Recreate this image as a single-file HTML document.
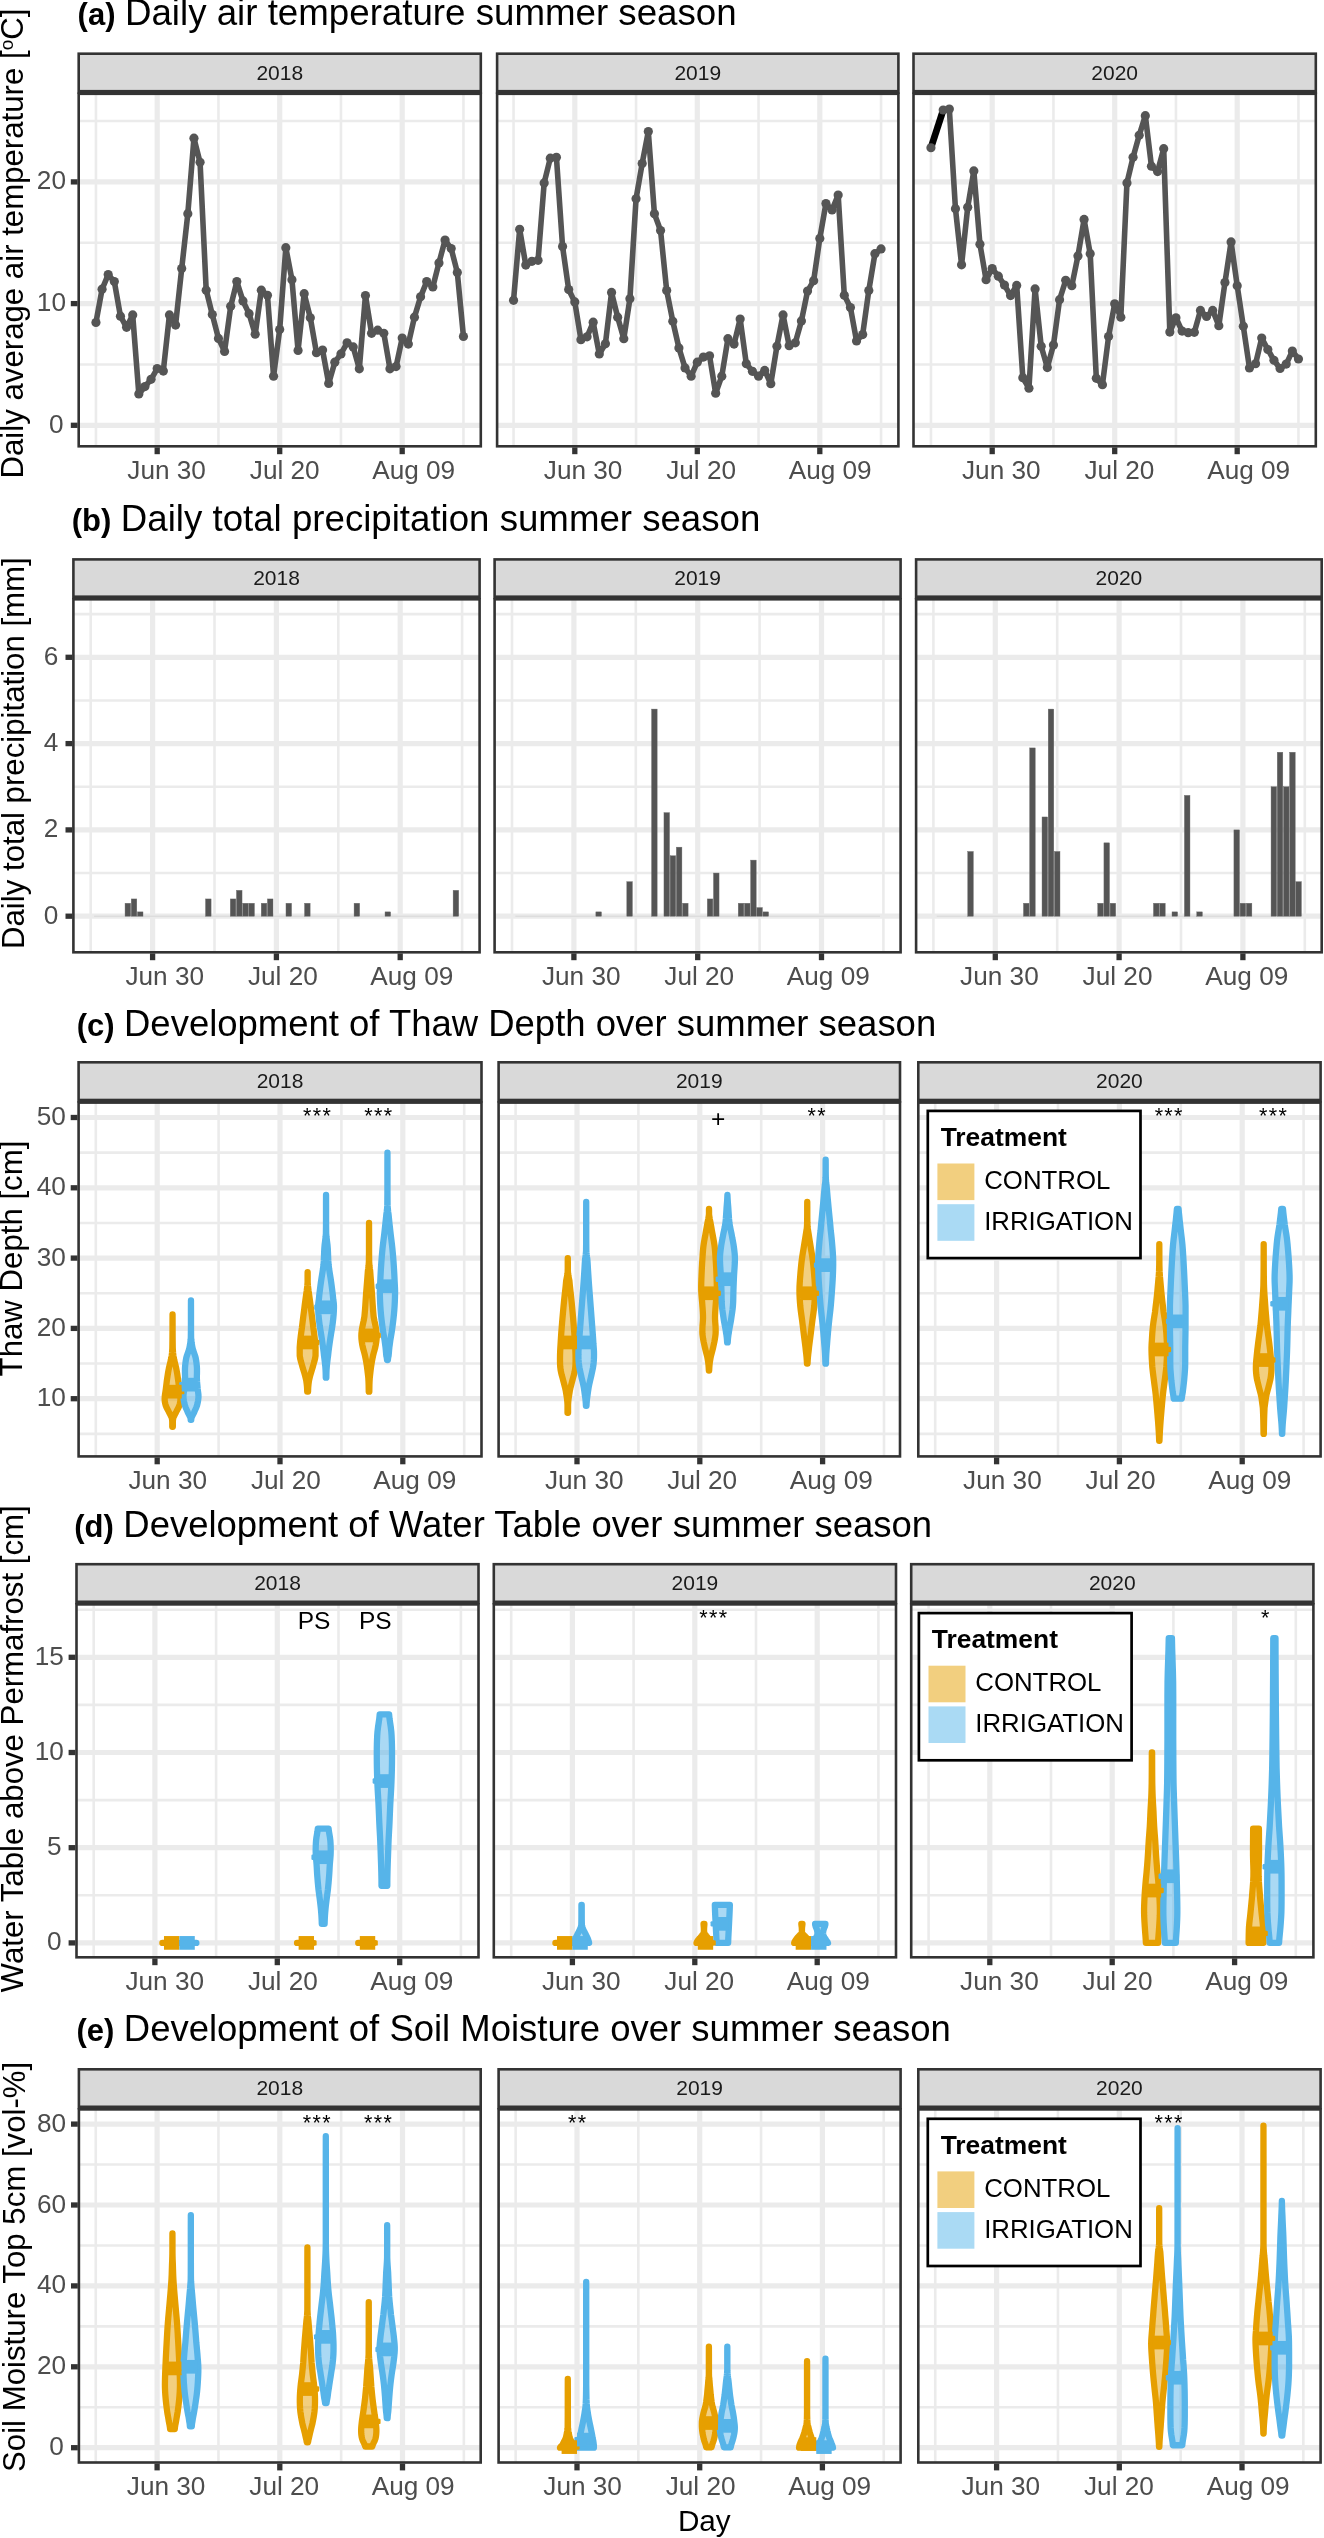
<!DOCTYPE html>
<html><head><meta charset="utf-8"><title>Figure</title>
<style>html,body{margin:0;padding:0;background:#fff}svg{display:block;will-change:transform}text{font-family:"Liberation Sans",sans-serif}</style>
</head><body>
<svg width="1324" height="2538" viewBox="0 0 1324 2538" font-family="Liberation Sans, sans-serif">
<rect width="1324" height="2538" fill="#fff"/>
<text x="77.6" y="25" font-size="36.7" fill="#000"><tspan font-weight="bold" font-size="31">(a)</tspan><tspan dx="-0.7"> Daily air temperature summer season</tspan></text>
<text transform="translate(23,478.5) rotate(-90)" font-size="31.2" fill="#000">Daily average air temperature [<tspan font-size="19" dy="-10">o</tspan><tspan dy="10">C]</tspan></text>
<rect x="77.4" y="52.4" width="404.7" height="41.4" fill="#333333"/>
<rect x="80" y="55" width="399.5" height="34.9" fill="#d9d9d9"/>
<text x="279.75" y="79.55" font-size="21" fill="#1a1a1a" text-anchor="middle">2018</text>
<rect x="78.7" y="93.8" width="402.1" height="352.5" fill="#fff"/>
<clipPath id="c1"><rect x="78.7" y="93.8" width="402.1" height="352.5"/></clipPath>
<g clip-path="url(#c1)">
<line x1="78.7" x2="480.8" y1="364.45" y2="364.45" stroke="#ebebeb" stroke-width="2.6"/>
<line x1="78.7" x2="480.8" y1="242.75" y2="242.75" stroke="#ebebeb" stroke-width="2.6"/>
<line x1="78.7" x2="480.8" y1="121.05" y2="121.05" stroke="#ebebeb" stroke-width="2.6"/>
<line x1="95.95" x2="95.95" y1="93.8" y2="446.3" stroke="#ebebeb" stroke-width="2.6"/>
<line x1="218.45" x2="218.45" y1="93.8" y2="446.3" stroke="#ebebeb" stroke-width="2.6"/>
<line x1="340.95" x2="340.95" y1="93.8" y2="446.3" stroke="#ebebeb" stroke-width="2.6"/>
<line x1="463.45" x2="463.45" y1="93.8" y2="446.3" stroke="#ebebeb" stroke-width="2.6"/>
<line x1="78.7" x2="480.8" y1="425.3" y2="425.3" stroke="#ebebeb" stroke-width="5.2"/>
<line x1="78.7" x2="480.8" y1="303.6" y2="303.6" stroke="#ebebeb" stroke-width="5.2"/>
<line x1="78.7" x2="480.8" y1="181.9" y2="181.9" stroke="#ebebeb" stroke-width="5.2"/>
<line x1="157.2" x2="157.2" y1="93.8" y2="446.3" stroke="#ebebeb" stroke-width="5.2"/>
<line x1="279.7" x2="279.7" y1="93.8" y2="446.3" stroke="#ebebeb" stroke-width="5.2"/>
<line x1="402.2" x2="402.2" y1="93.8" y2="446.3" stroke="#ebebeb" stroke-width="5.2"/>
<path d="M95.95 322.52 L102.07 289.21 L108.2 274.62 L114.32 281.6 L120.45 316.18 L126.57 327.28 L132.7 314.91 L138.82 393.9 L144.95 386.6 L151.07 379.31 L157.2 368.52 L163.32 371.06 L169.45 314.91 L175.57 325.06 L181.7 268.6 L187.82 213.72 L193.95 138.22 L200.07 162.33 L206.2 290.17 L212.32 314.59 L218.45 338.38 L224.57 351.39 L230.7 306.34 L236.82 281.6 L242.95 300.95 L249.07 313.64 L255.2 334.26 L261.32 290.17 L267.45 295.24 L273.57 376.13 L279.7 329.5 L285.82 247.66 L291.95 279.7 L298.07 350.44 L304.2 293.66 L310.32 317.76 L316.45 352.66 L322.57 350.12 L328.7 383.43 L334.82 362.18 L340.95 353.93 L347.07 342.82 L353.2 346.95 L359.32 368.84 L365.45 295.56 L371.57 333.31 L377.7 330.14 L383.82 333.31 L389.95 368.84 L396.07 366.62 L402.2 338.07 L408.32 344.09 L414.45 317.13 L420.57 296.83 L426.7 281.6 L432.82 286.99 L438.95 262.89 L445.07 240.05 L451.2 248.61 L457.32 272.4 L463.45 336.48" fill="none" stroke="#555555" stroke-width="5.6" stroke-linejoin="round" stroke-linecap="butt"/>
<g fill="#555555"><circle cx="95.95" cy="322.52" r="4.6"/><circle cx="102.07" cy="289.21" r="4.6"/><circle cx="108.2" cy="274.62" r="4.6"/><circle cx="114.32" cy="281.6" r="4.6"/><circle cx="120.45" cy="316.18" r="4.6"/><circle cx="126.57" cy="327.28" r="4.6"/><circle cx="132.7" cy="314.91" r="4.6"/><circle cx="138.82" cy="393.9" r="4.6"/><circle cx="144.95" cy="386.6" r="4.6"/><circle cx="151.07" cy="379.31" r="4.6"/><circle cx="157.2" cy="368.52" r="4.6"/><circle cx="163.32" cy="371.06" r="4.6"/><circle cx="169.45" cy="314.91" r="4.6"/><circle cx="175.57" cy="325.06" r="4.6"/><circle cx="181.7" cy="268.6" r="4.6"/><circle cx="187.82" cy="213.72" r="4.6"/><circle cx="193.95" cy="138.22" r="4.6"/><circle cx="200.07" cy="162.33" r="4.6"/><circle cx="206.2" cy="290.17" r="4.6"/><circle cx="212.32" cy="314.59" r="4.6"/><circle cx="218.45" cy="338.38" r="4.6"/><circle cx="224.57" cy="351.39" r="4.6"/><circle cx="230.7" cy="306.34" r="4.6"/><circle cx="236.82" cy="281.6" r="4.6"/><circle cx="242.95" cy="300.95" r="4.6"/><circle cx="249.07" cy="313.64" r="4.6"/><circle cx="255.2" cy="334.26" r="4.6"/><circle cx="261.32" cy="290.17" r="4.6"/><circle cx="267.45" cy="295.24" r="4.6"/><circle cx="273.57" cy="376.13" r="4.6"/><circle cx="279.7" cy="329.5" r="4.6"/><circle cx="285.82" cy="247.66" r="4.6"/><circle cx="291.95" cy="279.7" r="4.6"/><circle cx="298.07" cy="350.44" r="4.6"/><circle cx="304.2" cy="293.66" r="4.6"/><circle cx="310.32" cy="317.76" r="4.6"/><circle cx="316.45" cy="352.66" r="4.6"/><circle cx="322.57" cy="350.12" r="4.6"/><circle cx="328.7" cy="383.43" r="4.6"/><circle cx="334.82" cy="362.18" r="4.6"/><circle cx="340.95" cy="353.93" r="4.6"/><circle cx="347.07" cy="342.82" r="4.6"/><circle cx="353.2" cy="346.95" r="4.6"/><circle cx="359.32" cy="368.84" r="4.6"/><circle cx="365.45" cy="295.56" r="4.6"/><circle cx="371.57" cy="333.31" r="4.6"/><circle cx="377.7" cy="330.14" r="4.6"/><circle cx="383.82" cy="333.31" r="4.6"/><circle cx="389.95" cy="368.84" r="4.6"/><circle cx="396.07" cy="366.62" r="4.6"/><circle cx="402.2" cy="338.07" r="4.6"/><circle cx="408.32" cy="344.09" r="4.6"/><circle cx="414.45" cy="317.13" r="4.6"/><circle cx="420.57" cy="296.83" r="4.6"/><circle cx="426.7" cy="281.6" r="4.6"/><circle cx="432.82" cy="286.99" r="4.6"/><circle cx="438.95" cy="262.89" r="4.6"/><circle cx="445.07" cy="240.05" r="4.6"/><circle cx="451.2" cy="248.61" r="4.6"/><circle cx="457.32" cy="272.4" r="4.6"/><circle cx="463.45" cy="336.48" r="4.6"/></g>
</g>
<rect x="78.7" y="93.8" width="402.1" height="352.5" fill="none" stroke="#333333" stroke-width="2.6"/>
<line x1="157.2" x2="157.2" y1="447.4" y2="454.2" stroke="#333333" stroke-width="5.3"/>
<text x="127.3" y="479.1" font-size="26.2" fill="#4d4d4d">Jun 30</text>
<line x1="279.7" x2="279.7" y1="447.4" y2="454.2" stroke="#333333" stroke-width="5.3"/>
<text x="249.8" y="479.1" font-size="26.2" fill="#4d4d4d">Jul 20</text>
<line x1="402.2" x2="402.2" y1="447.4" y2="454.2" stroke="#333333" stroke-width="5.3"/>
<text x="372.2" y="479.1" font-size="26.2" fill="#4d4d4d">Aug 09</text>
<line x1="70.8" x2="77.6" y1="425.3" y2="425.3" stroke="#333333" stroke-width="5.3"/>
<text x="63.7" y="432.8" font-size="26.2" fill="#4d4d4d" text-anchor="end">0</text>
<line x1="70.8" x2="77.6" y1="303.6" y2="303.6" stroke="#333333" stroke-width="5.3"/>
<text x="66" y="311.1" font-size="26.2" fill="#4d4d4d" text-anchor="end">10</text>
<line x1="70.8" x2="77.6" y1="181.9" y2="181.9" stroke="#333333" stroke-width="5.3"/>
<text x="66" y="189.4" font-size="26.2" fill="#4d4d4d" text-anchor="end">20</text>
<rect x="495.8" y="52.4" width="403.9" height="41.4" fill="#333333"/>
<rect x="498.4" y="55" width="398.7" height="34.9" fill="#d9d9d9"/>
<text x="697.75" y="79.55" font-size="21" fill="#1a1a1a" text-anchor="middle">2019</text>
<rect x="497.1" y="93.8" width="401.3" height="352.5" fill="#fff"/>
<clipPath id="c2"><rect x="497.1" y="93.8" width="401.3" height="352.5"/></clipPath>
<g clip-path="url(#c2)">
<line x1="497.1" x2="898.4" y1="364.45" y2="364.45" stroke="#ebebeb" stroke-width="2.6"/>
<line x1="497.1" x2="898.4" y1="242.75" y2="242.75" stroke="#ebebeb" stroke-width="2.6"/>
<line x1="497.1" x2="898.4" y1="121.05" y2="121.05" stroke="#ebebeb" stroke-width="2.6"/>
<line x1="513.55" x2="513.55" y1="93.8" y2="446.3" stroke="#ebebeb" stroke-width="2.6"/>
<line x1="636.05" x2="636.05" y1="93.8" y2="446.3" stroke="#ebebeb" stroke-width="2.6"/>
<line x1="758.55" x2="758.55" y1="93.8" y2="446.3" stroke="#ebebeb" stroke-width="2.6"/>
<line x1="881.05" x2="881.05" y1="93.8" y2="446.3" stroke="#ebebeb" stroke-width="2.6"/>
<line x1="497.1" x2="898.4" y1="425.3" y2="425.3" stroke="#ebebeb" stroke-width="5.2"/>
<line x1="497.1" x2="898.4" y1="303.6" y2="303.6" stroke="#ebebeb" stroke-width="5.2"/>
<line x1="497.1" x2="898.4" y1="181.9" y2="181.9" stroke="#ebebeb" stroke-width="5.2"/>
<line x1="574.8" x2="574.8" y1="93.8" y2="446.3" stroke="#ebebeb" stroke-width="5.2"/>
<line x1="697.3" x2="697.3" y1="93.8" y2="446.3" stroke="#ebebeb" stroke-width="5.2"/>
<line x1="819.8" x2="819.8" y1="93.8" y2="446.3" stroke="#ebebeb" stroke-width="5.2"/>
<path d="M513.55 300.32 L519.67 229.26 L525.8 265.11 L531.92 261.3 L538.05 260.35 L544.17 182.95 L550.3 158.2 L556.42 157.25 L562.55 246.39 L568.67 289.53 L574.8 301.9 L580.92 339.65 L587.05 336.8 L593.17 322.21 L599.3 353.93 L605.42 343.78 L611.55 292.39 L617.67 317.13 L623.8 338.7 L629.92 298.73 L636.05 198.81 L642.17 163.6 L648.3 131.56 L654.42 213.72 L660.55 230.53 L666.67 290.48 L672.8 321.25 L678.92 347.9 L685.05 367.89 L691.17 376.13 L697.3 362.18 L703.42 357.1 L709.55 355.83 L715.67 393.26 L721.8 376.13 L727.92 338.7 L734.05 344.09 L740.17 319.03 L746.3 363.76 L752.42 371.37 L758.55 376.13 L764.67 370.42 L770.8 383.75 L776.92 346.31 L783.05 314.91 L789.17 345.68 L795.3 342.82 L801.42 320.94 L807.55 291.12 L813.67 280.65 L819.8 238.46 L825.92 203.56 L832.05 209.91 L838.17 195 L844.3 295.24 L850.42 307.61 L856.55 340.92 L862.67 334.58 L868.8 290.48 L874.92 253.69 L881.05 248.93" fill="none" stroke="#555555" stroke-width="5.6" stroke-linejoin="round" stroke-linecap="butt"/>
<g fill="#555555"><circle cx="513.55" cy="300.32" r="4.6"/><circle cx="519.67" cy="229.26" r="4.6"/><circle cx="525.8" cy="265.11" r="4.6"/><circle cx="531.92" cy="261.3" r="4.6"/><circle cx="538.05" cy="260.35" r="4.6"/><circle cx="544.17" cy="182.95" r="4.6"/><circle cx="550.3" cy="158.2" r="4.6"/><circle cx="556.42" cy="157.25" r="4.6"/><circle cx="562.55" cy="246.39" r="4.6"/><circle cx="568.67" cy="289.53" r="4.6"/><circle cx="574.8" cy="301.9" r="4.6"/><circle cx="580.92" cy="339.65" r="4.6"/><circle cx="587.05" cy="336.8" r="4.6"/><circle cx="593.17" cy="322.21" r="4.6"/><circle cx="599.3" cy="353.93" r="4.6"/><circle cx="605.42" cy="343.78" r="4.6"/><circle cx="611.55" cy="292.39" r="4.6"/><circle cx="617.67" cy="317.13" r="4.6"/><circle cx="623.8" cy="338.7" r="4.6"/><circle cx="629.92" cy="298.73" r="4.6"/><circle cx="636.05" cy="198.81" r="4.6"/><circle cx="642.17" cy="163.6" r="4.6"/><circle cx="648.3" cy="131.56" r="4.6"/><circle cx="654.42" cy="213.72" r="4.6"/><circle cx="660.55" cy="230.53" r="4.6"/><circle cx="666.67" cy="290.48" r="4.6"/><circle cx="672.8" cy="321.25" r="4.6"/><circle cx="678.92" cy="347.9" r="4.6"/><circle cx="685.05" cy="367.89" r="4.6"/><circle cx="691.17" cy="376.13" r="4.6"/><circle cx="697.3" cy="362.18" r="4.6"/><circle cx="703.42" cy="357.1" r="4.6"/><circle cx="709.55" cy="355.83" r="4.6"/><circle cx="715.67" cy="393.26" r="4.6"/><circle cx="721.8" cy="376.13" r="4.6"/><circle cx="727.92" cy="338.7" r="4.6"/><circle cx="734.05" cy="344.09" r="4.6"/><circle cx="740.17" cy="319.03" r="4.6"/><circle cx="746.3" cy="363.76" r="4.6"/><circle cx="752.42" cy="371.37" r="4.6"/><circle cx="758.55" cy="376.13" r="4.6"/><circle cx="764.67" cy="370.42" r="4.6"/><circle cx="770.8" cy="383.75" r="4.6"/><circle cx="776.92" cy="346.31" r="4.6"/><circle cx="783.05" cy="314.91" r="4.6"/><circle cx="789.17" cy="345.68" r="4.6"/><circle cx="795.3" cy="342.82" r="4.6"/><circle cx="801.42" cy="320.94" r="4.6"/><circle cx="807.55" cy="291.12" r="4.6"/><circle cx="813.67" cy="280.65" r="4.6"/><circle cx="819.8" cy="238.46" r="4.6"/><circle cx="825.92" cy="203.56" r="4.6"/><circle cx="832.05" cy="209.91" r="4.6"/><circle cx="838.17" cy="195" r="4.6"/><circle cx="844.3" cy="295.24" r="4.6"/><circle cx="850.42" cy="307.61" r="4.6"/><circle cx="856.55" cy="340.92" r="4.6"/><circle cx="862.67" cy="334.58" r="4.6"/><circle cx="868.8" cy="290.48" r="4.6"/><circle cx="874.92" cy="253.69" r="4.6"/><circle cx="881.05" cy="248.93" r="4.6"/></g>
</g>
<rect x="497.1" y="93.8" width="401.3" height="352.5" fill="none" stroke="#333333" stroke-width="2.6"/>
<line x1="574.8" x2="574.8" y1="447.4" y2="454.2" stroke="#333333" stroke-width="5.3"/>
<text x="543.8" y="479.1" font-size="26.2" fill="#4d4d4d">Jun 30</text>
<line x1="697.3" x2="697.3" y1="447.4" y2="454.2" stroke="#333333" stroke-width="5.3"/>
<text x="666.2" y="479.1" font-size="26.2" fill="#4d4d4d">Jul 20</text>
<line x1="819.8" x2="819.8" y1="447.4" y2="454.2" stroke="#333333" stroke-width="5.3"/>
<text x="788.7" y="479.1" font-size="26.2" fill="#4d4d4d">Aug 09</text>
<rect x="912.2" y="52.4" width="404.9" height="41.4" fill="#333333"/>
<rect x="914.8" y="55" width="399.7" height="34.9" fill="#d9d9d9"/>
<text x="1114.65" y="79.55" font-size="21" fill="#1a1a1a" text-anchor="middle">2020</text>
<rect x="913.5" y="93.8" width="402.3" height="352.5" fill="#fff"/>
<clipPath id="c3"><rect x="913.5" y="93.8" width="402.3" height="352.5"/></clipPath>
<g clip-path="url(#c3)">
<line x1="913.5" x2="1315.8" y1="364.45" y2="364.45" stroke="#ebebeb" stroke-width="2.6"/>
<line x1="913.5" x2="1315.8" y1="242.75" y2="242.75" stroke="#ebebeb" stroke-width="2.6"/>
<line x1="913.5" x2="1315.8" y1="121.05" y2="121.05" stroke="#ebebeb" stroke-width="2.6"/>
<line x1="930.95" x2="930.95" y1="93.8" y2="446.3" stroke="#ebebeb" stroke-width="2.6"/>
<line x1="1053.45" x2="1053.45" y1="93.8" y2="446.3" stroke="#ebebeb" stroke-width="2.6"/>
<line x1="1175.95" x2="1175.95" y1="93.8" y2="446.3" stroke="#ebebeb" stroke-width="2.6"/>
<line x1="1298.45" x2="1298.45" y1="93.8" y2="446.3" stroke="#ebebeb" stroke-width="2.6"/>
<line x1="913.5" x2="1315.8" y1="425.3" y2="425.3" stroke="#ebebeb" stroke-width="5.2"/>
<line x1="913.5" x2="1315.8" y1="303.6" y2="303.6" stroke="#ebebeb" stroke-width="5.2"/>
<line x1="913.5" x2="1315.8" y1="181.9" y2="181.9" stroke="#ebebeb" stroke-width="5.2"/>
<line x1="992.2" x2="992.2" y1="93.8" y2="446.3" stroke="#ebebeb" stroke-width="5.2"/>
<line x1="1114.7" x2="1114.7" y1="93.8" y2="446.3" stroke="#ebebeb" stroke-width="5.2"/>
<line x1="1237.2" x2="1237.2" y1="93.8" y2="446.3" stroke="#ebebeb" stroke-width="5.2"/>
<line x1="930.95" y1="147.73" x2="943.2" y2="109.98" stroke="#000" stroke-width="6.8" stroke-linecap="butt"/>
<path d="M943.2 109.98 L949.33 109.03 L955.45 208.64 L961.58 264.79 L967.7 207.37 L973.83 170.89 L979.95 244.17 L986.08 279.7 L992.2 268.6 L998.33 276.21 L1004.45 285.09 L1010.58 295.56 L1016.7 285.41 L1022.83 377.72 L1028.95 388.19 L1035.08 288.9 L1041.2 346.31 L1047.33 367.57 L1053.45 345.05 L1059.58 299.68 L1065.7 280.33 L1071.83 285.73 L1077.95 255.91 L1084.08 219.43 L1090.2 253.69 L1096.33 378.35 L1102.45 384.7 L1108.58 336.48 L1114.7 303.81 L1120.83 317.13 L1126.95 182.95 L1133.08 157.25 L1139.2 135.36 L1145.33 115.69 L1151.45 166.13 L1157.58 171.53 L1163.7 148.69 L1169.83 332.04 L1175.95 317.76 L1182.08 331.09 L1188.2 332.67 L1194.33 332.36 L1200.45 310.47 L1206.58 316.5 L1212.7 310.47 L1218.83 325.69 L1224.95 282.55 L1231.08 241.95 L1237.2 285.73 L1243.33 326.33 L1249.45 367.89 L1255.58 363.76 L1261.7 338.07 L1267.83 349.49 L1273.95 360.27 L1280.08 368.52 L1286.2 364.08 L1292.33 351.07 L1298.45 359" fill="none" stroke="#555555" stroke-width="5.6" stroke-linejoin="round" stroke-linecap="butt"/>
<g fill="#555555"><circle cx="930.95" cy="147.73" r="4.6"/><circle cx="943.2" cy="109.98" r="4.6"/><circle cx="949.33" cy="109.03" r="4.6"/><circle cx="955.45" cy="208.64" r="4.6"/><circle cx="961.58" cy="264.79" r="4.6"/><circle cx="967.7" cy="207.37" r="4.6"/><circle cx="973.83" cy="170.89" r="4.6"/><circle cx="979.95" cy="244.17" r="4.6"/><circle cx="986.08" cy="279.7" r="4.6"/><circle cx="992.2" cy="268.6" r="4.6"/><circle cx="998.33" cy="276.21" r="4.6"/><circle cx="1004.45" cy="285.09" r="4.6"/><circle cx="1010.58" cy="295.56" r="4.6"/><circle cx="1016.7" cy="285.41" r="4.6"/><circle cx="1022.83" cy="377.72" r="4.6"/><circle cx="1028.95" cy="388.19" r="4.6"/><circle cx="1035.08" cy="288.9" r="4.6"/><circle cx="1041.2" cy="346.31" r="4.6"/><circle cx="1047.33" cy="367.57" r="4.6"/><circle cx="1053.45" cy="345.05" r="4.6"/><circle cx="1059.58" cy="299.68" r="4.6"/><circle cx="1065.7" cy="280.33" r="4.6"/><circle cx="1071.83" cy="285.73" r="4.6"/><circle cx="1077.95" cy="255.91" r="4.6"/><circle cx="1084.08" cy="219.43" r="4.6"/><circle cx="1090.2" cy="253.69" r="4.6"/><circle cx="1096.33" cy="378.35" r="4.6"/><circle cx="1102.45" cy="384.7" r="4.6"/><circle cx="1108.58" cy="336.48" r="4.6"/><circle cx="1114.7" cy="303.81" r="4.6"/><circle cx="1120.83" cy="317.13" r="4.6"/><circle cx="1126.95" cy="182.95" r="4.6"/><circle cx="1133.08" cy="157.25" r="4.6"/><circle cx="1139.2" cy="135.36" r="4.6"/><circle cx="1145.33" cy="115.69" r="4.6"/><circle cx="1151.45" cy="166.13" r="4.6"/><circle cx="1157.58" cy="171.53" r="4.6"/><circle cx="1163.7" cy="148.69" r="4.6"/><circle cx="1169.83" cy="332.04" r="4.6"/><circle cx="1175.95" cy="317.76" r="4.6"/><circle cx="1182.08" cy="331.09" r="4.6"/><circle cx="1188.2" cy="332.67" r="4.6"/><circle cx="1194.33" cy="332.36" r="4.6"/><circle cx="1200.45" cy="310.47" r="4.6"/><circle cx="1206.58" cy="316.5" r="4.6"/><circle cx="1212.7" cy="310.47" r="4.6"/><circle cx="1218.83" cy="325.69" r="4.6"/><circle cx="1224.95" cy="282.55" r="4.6"/><circle cx="1231.08" cy="241.95" r="4.6"/><circle cx="1237.2" cy="285.73" r="4.6"/><circle cx="1243.33" cy="326.33" r="4.6"/><circle cx="1249.45" cy="367.89" r="4.6"/><circle cx="1255.58" cy="363.76" r="4.6"/><circle cx="1261.7" cy="338.07" r="4.6"/><circle cx="1267.83" cy="349.49" r="4.6"/><circle cx="1273.95" cy="360.27" r="4.6"/><circle cx="1280.08" cy="368.52" r="4.6"/><circle cx="1286.2" cy="364.08" r="4.6"/><circle cx="1292.33" cy="351.07" r="4.6"/><circle cx="1298.45" cy="359" r="4.6"/></g>
</g>
<rect x="913.5" y="93.8" width="402.3" height="352.5" fill="none" stroke="#333333" stroke-width="2.6"/>
<line x1="992.2" x2="992.2" y1="447.4" y2="454.2" stroke="#333333" stroke-width="5.3"/>
<text x="962" y="479.1" font-size="26.2" fill="#4d4d4d">Jun 30</text>
<line x1="1114.7" x2="1114.7" y1="447.4" y2="454.2" stroke="#333333" stroke-width="5.3"/>
<text x="1084.5" y="479.1" font-size="26.2" fill="#4d4d4d">Jul 20</text>
<line x1="1237.2" x2="1237.2" y1="447.4" y2="454.2" stroke="#333333" stroke-width="5.3"/>
<text x="1207.2" y="479.1" font-size="26.2" fill="#4d4d4d">Aug 09</text>
<text x="71.8" y="531" font-size="36.65" fill="#000"><tspan font-weight="bold" font-size="31">(b)</tspan><tspan dx="-0.7"> Daily total precipitation summer season</tspan></text>
<text transform="translate(24,949) rotate(-90)" font-size="31.2" fill="#000">Daily total precipitation [mm]</text>
<rect x="72.1" y="558.1" width="408.8" height="41.2" fill="#333333"/>
<rect x="74.7" y="560.7" width="403.6" height="34.7" fill="#d9d9d9"/>
<text x="276.5" y="585.15" font-size="21" fill="#1a1a1a" text-anchor="middle">2018</text>
<rect x="73.4" y="599.3" width="406.2" height="353" fill="#fff"/>
<clipPath id="c4"><rect x="73.4" y="599.3" width="406.2" height="353"/></clipPath>
<g clip-path="url(#c4)">
<line x1="73.4" x2="479.6" y1="873.05" y2="873.05" stroke="#ebebeb" stroke-width="2.6"/>
<line x1="73.4" x2="479.6" y1="786.75" y2="786.75" stroke="#ebebeb" stroke-width="2.6"/>
<line x1="73.4" x2="479.6" y1="700.45" y2="700.45" stroke="#ebebeb" stroke-width="2.6"/>
<line x1="73.4" x2="479.6" y1="614.15" y2="614.15" stroke="#ebebeb" stroke-width="2.6"/>
<line x1="90.7" x2="90.7" y1="599.3" y2="952.3" stroke="#ebebeb" stroke-width="2.6"/>
<line x1="214.5" x2="214.5" y1="599.3" y2="952.3" stroke="#ebebeb" stroke-width="2.6"/>
<line x1="338.3" x2="338.3" y1="599.3" y2="952.3" stroke="#ebebeb" stroke-width="2.6"/>
<line x1="462.1" x2="462.1" y1="599.3" y2="952.3" stroke="#ebebeb" stroke-width="2.6"/>
<line x1="73.4" x2="479.6" y1="916.2" y2="916.2" stroke="#ebebeb" stroke-width="5.2"/>
<line x1="73.4" x2="479.6" y1="829.9" y2="829.9" stroke="#ebebeb" stroke-width="5.2"/>
<line x1="73.4" x2="479.6" y1="743.6" y2="743.6" stroke="#ebebeb" stroke-width="5.2"/>
<line x1="73.4" x2="479.6" y1="657.3" y2="657.3" stroke="#ebebeb" stroke-width="5.2"/>
<line x1="152.6" x2="152.6" y1="599.3" y2="952.3" stroke="#ebebeb" stroke-width="5.2"/>
<line x1="276.4" x2="276.4" y1="599.3" y2="952.3" stroke="#ebebeb" stroke-width="5.2"/>
<line x1="400.2" x2="400.2" y1="599.3" y2="952.3" stroke="#ebebeb" stroke-width="5.2"/>
<line x1="94.09" x2="458.71" y1="916.2" y2="916.2" stroke="#cfcfcf" stroke-width="0.7"/>
<rect x="125.05" y="903.25" width="5.57" height="12.94" fill="#555555" stroke="#6a6a6a" stroke-width="0.4"/>
<rect x="131.24" y="898.94" width="5.57" height="17.26" fill="#555555" stroke="#6a6a6a" stroke-width="0.4"/>
<rect x="137.43" y="911.88" width="5.57" height="4.32" fill="#555555" stroke="#6a6a6a" stroke-width="0.4"/>
<rect x="205.52" y="898.94" width="5.57" height="17.26" fill="#555555" stroke="#6a6a6a" stroke-width="0.4"/>
<rect x="230.28" y="898.94" width="5.57" height="17.26" fill="#555555" stroke="#6a6a6a" stroke-width="0.4"/>
<rect x="236.47" y="890.31" width="5.57" height="25.89" fill="#555555" stroke="#6a6a6a" stroke-width="0.4"/>
<rect x="242.66" y="903.25" width="5.57" height="12.94" fill="#555555" stroke="#6a6a6a" stroke-width="0.4"/>
<rect x="248.85" y="903.25" width="5.57" height="12.94" fill="#555555" stroke="#6a6a6a" stroke-width="0.4"/>
<rect x="261.23" y="903.25" width="5.57" height="12.94" fill="#555555" stroke="#6a6a6a" stroke-width="0.4"/>
<rect x="267.42" y="898.94" width="5.57" height="17.26" fill="#555555" stroke="#6a6a6a" stroke-width="0.4"/>
<rect x="285.99" y="903.25" width="5.57" height="12.94" fill="#555555" stroke="#6a6a6a" stroke-width="0.4"/>
<rect x="304.56" y="903.25" width="5.57" height="12.94" fill="#555555" stroke="#6a6a6a" stroke-width="0.4"/>
<rect x="354.08" y="903.25" width="5.57" height="12.94" fill="#555555" stroke="#6a6a6a" stroke-width="0.4"/>
<rect x="385.03" y="911.88" width="5.57" height="4.32" fill="#555555" stroke="#6a6a6a" stroke-width="0.4"/>
<rect x="453.12" y="890.31" width="5.57" height="25.89" fill="#555555" stroke="#6a6a6a" stroke-width="0.4"/>
</g>
<rect x="73.4" y="599.3" width="406.2" height="353" fill="none" stroke="#333333" stroke-width="2.6"/>
<line x1="152.6" x2="152.6" y1="953.4" y2="960.2" stroke="#333333" stroke-width="5.3"/>
<text x="125.4" y="985.1" font-size="26.2" fill="#4d4d4d">Jun 30</text>
<line x1="276.4" x2="276.4" y1="953.4" y2="960.2" stroke="#333333" stroke-width="5.3"/>
<text x="247.9" y="985.1" font-size="26.2" fill="#4d4d4d">Jul 20</text>
<line x1="400.2" x2="400.2" y1="953.4" y2="960.2" stroke="#333333" stroke-width="5.3"/>
<text x="370.3" y="985.1" font-size="26.2" fill="#4d4d4d">Aug 09</text>
<line x1="65.5" x2="72.3" y1="916.2" y2="916.2" stroke="#333333" stroke-width="5.3"/>
<text x="58.4" y="923.7" font-size="26.2" fill="#4d4d4d" text-anchor="end">0</text>
<line x1="65.5" x2="72.3" y1="829.9" y2="829.9" stroke="#333333" stroke-width="5.3"/>
<text x="58.4" y="837.4" font-size="26.2" fill="#4d4d4d" text-anchor="end">2</text>
<line x1="65.5" x2="72.3" y1="743.6" y2="743.6" stroke="#333333" stroke-width="5.3"/>
<text x="58.4" y="751.1" font-size="26.2" fill="#4d4d4d" text-anchor="end">4</text>
<line x1="65.5" x2="72.3" y1="657.3" y2="657.3" stroke="#333333" stroke-width="5.3"/>
<text x="58.4" y="664.8" font-size="26.2" fill="#4d4d4d" text-anchor="end">6</text>
<rect x="493.3" y="558.1" width="408.6" height="41.2" fill="#333333"/>
<rect x="495.9" y="560.7" width="403.4" height="34.7" fill="#d9d9d9"/>
<text x="697.6" y="585.15" font-size="21" fill="#1a1a1a" text-anchor="middle">2019</text>
<rect x="494.6" y="599.3" width="406" height="353" fill="#fff"/>
<clipPath id="c5"><rect x="494.6" y="599.3" width="406" height="353"/></clipPath>
<g clip-path="url(#c5)">
<line x1="494.6" x2="900.6" y1="873.05" y2="873.05" stroke="#ebebeb" stroke-width="2.6"/>
<line x1="494.6" x2="900.6" y1="786.75" y2="786.75" stroke="#ebebeb" stroke-width="2.6"/>
<line x1="494.6" x2="900.6" y1="700.45" y2="700.45" stroke="#ebebeb" stroke-width="2.6"/>
<line x1="494.6" x2="900.6" y1="614.15" y2="614.15" stroke="#ebebeb" stroke-width="2.6"/>
<line x1="512" x2="512" y1="599.3" y2="952.3" stroke="#ebebeb" stroke-width="2.6"/>
<line x1="635.8" x2="635.8" y1="599.3" y2="952.3" stroke="#ebebeb" stroke-width="2.6"/>
<line x1="759.6" x2="759.6" y1="599.3" y2="952.3" stroke="#ebebeb" stroke-width="2.6"/>
<line x1="883.4" x2="883.4" y1="599.3" y2="952.3" stroke="#ebebeb" stroke-width="2.6"/>
<line x1="494.6" x2="900.6" y1="916.2" y2="916.2" stroke="#ebebeb" stroke-width="5.2"/>
<line x1="494.6" x2="900.6" y1="829.9" y2="829.9" stroke="#ebebeb" stroke-width="5.2"/>
<line x1="494.6" x2="900.6" y1="743.6" y2="743.6" stroke="#ebebeb" stroke-width="5.2"/>
<line x1="494.6" x2="900.6" y1="657.3" y2="657.3" stroke="#ebebeb" stroke-width="5.2"/>
<line x1="573.9" x2="573.9" y1="599.3" y2="952.3" stroke="#ebebeb" stroke-width="5.2"/>
<line x1="697.7" x2="697.7" y1="599.3" y2="952.3" stroke="#ebebeb" stroke-width="5.2"/>
<line x1="821.5" x2="821.5" y1="599.3" y2="952.3" stroke="#ebebeb" stroke-width="5.2"/>
<line x1="515.39" x2="880.01" y1="916.2" y2="916.2" stroke="#cfcfcf" stroke-width="0.7"/>
<rect x="595.87" y="911.88" width="5.57" height="4.32" fill="#555555" stroke="#6a6a6a" stroke-width="0.4"/>
<rect x="626.82" y="881.68" width="5.57" height="34.52" fill="#555555" stroke="#6a6a6a" stroke-width="0.4"/>
<rect x="651.58" y="709.08" width="5.57" height="207.12" fill="#555555" stroke="#6a6a6a" stroke-width="0.4"/>
<rect x="663.96" y="812.64" width="5.57" height="103.56" fill="#555555" stroke="#6a6a6a" stroke-width="0.4"/>
<rect x="670.15" y="855.79" width="5.57" height="60.41" fill="#555555" stroke="#6a6a6a" stroke-width="0.4"/>
<rect x="676.34" y="847.16" width="5.57" height="69.04" fill="#555555" stroke="#6a6a6a" stroke-width="0.4"/>
<rect x="682.53" y="903.25" width="5.57" height="12.94" fill="#555555" stroke="#6a6a6a" stroke-width="0.4"/>
<rect x="707.29" y="898.94" width="5.57" height="17.26" fill="#555555" stroke="#6a6a6a" stroke-width="0.4"/>
<rect x="713.48" y="873.05" width="5.57" height="43.15" fill="#555555" stroke="#6a6a6a" stroke-width="0.4"/>
<rect x="738.24" y="903.25" width="5.57" height="12.94" fill="#555555" stroke="#6a6a6a" stroke-width="0.4"/>
<rect x="744.43" y="903.25" width="5.57" height="12.94" fill="#555555" stroke="#6a6a6a" stroke-width="0.4"/>
<rect x="750.62" y="860.11" width="5.57" height="56.09" fill="#555555" stroke="#6a6a6a" stroke-width="0.4"/>
<rect x="756.81" y="907.57" width="5.57" height="8.63" fill="#555555" stroke="#6a6a6a" stroke-width="0.4"/>
<rect x="763" y="911.88" width="5.57" height="4.32" fill="#555555" stroke="#6a6a6a" stroke-width="0.4"/>
</g>
<rect x="494.6" y="599.3" width="406" height="353" fill="none" stroke="#333333" stroke-width="2.6"/>
<line x1="573.9" x2="573.9" y1="953.4" y2="960.2" stroke="#333333" stroke-width="5.3"/>
<text x="541.9" y="985.1" font-size="26.2" fill="#4d4d4d">Jun 30</text>
<line x1="697.7" x2="697.7" y1="953.4" y2="960.2" stroke="#333333" stroke-width="5.3"/>
<text x="664.3" y="985.1" font-size="26.2" fill="#4d4d4d">Jul 20</text>
<line x1="821.5" x2="821.5" y1="953.4" y2="960.2" stroke="#333333" stroke-width="5.3"/>
<text x="786.8" y="985.1" font-size="26.2" fill="#4d4d4d">Aug 09</text>
<rect x="914.8" y="558.1" width="408.2" height="41.2" fill="#333333"/>
<rect x="917.4" y="560.7" width="403" height="34.7" fill="#d9d9d9"/>
<text x="1118.9" y="585.15" font-size="21" fill="#1a1a1a" text-anchor="middle">2020</text>
<rect x="916.1" y="599.3" width="405.6" height="353" fill="#fff"/>
<clipPath id="c6"><rect x="916.1" y="599.3" width="405.6" height="353"/></clipPath>
<g clip-path="url(#c6)">
<line x1="916.1" x2="1321.7" y1="873.05" y2="873.05" stroke="#ebebeb" stroke-width="2.6"/>
<line x1="916.1" x2="1321.7" y1="786.75" y2="786.75" stroke="#ebebeb" stroke-width="2.6"/>
<line x1="916.1" x2="1321.7" y1="700.45" y2="700.45" stroke="#ebebeb" stroke-width="2.6"/>
<line x1="916.1" x2="1321.7" y1="614.15" y2="614.15" stroke="#ebebeb" stroke-width="2.6"/>
<line x1="933.4" x2="933.4" y1="599.3" y2="952.3" stroke="#ebebeb" stroke-width="2.6"/>
<line x1="1057.2" x2="1057.2" y1="599.3" y2="952.3" stroke="#ebebeb" stroke-width="2.6"/>
<line x1="1181" x2="1181" y1="599.3" y2="952.3" stroke="#ebebeb" stroke-width="2.6"/>
<line x1="1304.8" x2="1304.8" y1="599.3" y2="952.3" stroke="#ebebeb" stroke-width="2.6"/>
<line x1="916.1" x2="1321.7" y1="916.2" y2="916.2" stroke="#ebebeb" stroke-width="5.2"/>
<line x1="916.1" x2="1321.7" y1="829.9" y2="829.9" stroke="#ebebeb" stroke-width="5.2"/>
<line x1="916.1" x2="1321.7" y1="743.6" y2="743.6" stroke="#ebebeb" stroke-width="5.2"/>
<line x1="916.1" x2="1321.7" y1="657.3" y2="657.3" stroke="#ebebeb" stroke-width="5.2"/>
<line x1="995.3" x2="995.3" y1="599.3" y2="952.3" stroke="#ebebeb" stroke-width="5.2"/>
<line x1="1119.1" x2="1119.1" y1="599.3" y2="952.3" stroke="#ebebeb" stroke-width="5.2"/>
<line x1="1242.9" x2="1242.9" y1="599.3" y2="952.3" stroke="#ebebeb" stroke-width="5.2"/>
<line x1="936.79" x2="1301.41" y1="916.2" y2="916.2" stroke="#cfcfcf" stroke-width="0.7"/>
<rect x="967.75" y="851.48" width="5.57" height="64.72" fill="#555555" stroke="#6a6a6a" stroke-width="0.4"/>
<rect x="1023.46" y="903.25" width="5.57" height="12.94" fill="#555555" stroke="#6a6a6a" stroke-width="0.4"/>
<rect x="1029.65" y="747.92" width="5.57" height="168.28" fill="#555555" stroke="#6a6a6a" stroke-width="0.4"/>
<rect x="1042.03" y="816.96" width="5.57" height="99.24" fill="#555555" stroke="#6a6a6a" stroke-width="0.4"/>
<rect x="1048.22" y="709.08" width="5.57" height="207.12" fill="#555555" stroke="#6a6a6a" stroke-width="0.4"/>
<rect x="1054.41" y="851.48" width="5.57" height="64.72" fill="#555555" stroke="#6a6a6a" stroke-width="0.4"/>
<rect x="1097.74" y="903.25" width="5.57" height="12.94" fill="#555555" stroke="#6a6a6a" stroke-width="0.4"/>
<rect x="1103.93" y="842.85" width="5.57" height="73.35" fill="#555555" stroke="#6a6a6a" stroke-width="0.4"/>
<rect x="1110.12" y="903.25" width="5.57" height="12.94" fill="#555555" stroke="#6a6a6a" stroke-width="0.4"/>
<rect x="1153.45" y="903.25" width="5.57" height="12.94" fill="#555555" stroke="#6a6a6a" stroke-width="0.4"/>
<rect x="1159.64" y="903.25" width="5.57" height="12.94" fill="#555555" stroke="#6a6a6a" stroke-width="0.4"/>
<rect x="1172.02" y="911.88" width="5.57" height="4.32" fill="#555555" stroke="#6a6a6a" stroke-width="0.4"/>
<rect x="1184.4" y="795.38" width="5.57" height="120.82" fill="#555555" stroke="#6a6a6a" stroke-width="0.4"/>
<rect x="1196.78" y="911.88" width="5.57" height="4.32" fill="#555555" stroke="#6a6a6a" stroke-width="0.4"/>
<rect x="1233.92" y="829.9" width="5.57" height="86.3" fill="#555555" stroke="#6a6a6a" stroke-width="0.4"/>
<rect x="1240.11" y="903.25" width="5.57" height="12.94" fill="#555555" stroke="#6a6a6a" stroke-width="0.4"/>
<rect x="1246.3" y="903.25" width="5.57" height="12.94" fill="#555555" stroke="#6a6a6a" stroke-width="0.4"/>
<rect x="1271.06" y="786.75" width="5.57" height="129.45" fill="#555555" stroke="#6a6a6a" stroke-width="0.4"/>
<rect x="1277.25" y="752.23" width="5.57" height="163.97" fill="#555555" stroke="#6a6a6a" stroke-width="0.4"/>
<rect x="1283.44" y="786.75" width="5.57" height="129.45" fill="#555555" stroke="#6a6a6a" stroke-width="0.4"/>
<rect x="1289.63" y="752.23" width="5.57" height="163.97" fill="#555555" stroke="#6a6a6a" stroke-width="0.4"/>
<rect x="1295.82" y="881.68" width="5.57" height="34.52" fill="#555555" stroke="#6a6a6a" stroke-width="0.4"/>
</g>
<rect x="916.1" y="599.3" width="405.6" height="353" fill="none" stroke="#333333" stroke-width="2.6"/>
<line x1="995.3" x2="995.3" y1="953.4" y2="960.2" stroke="#333333" stroke-width="5.3"/>
<text x="960.1" y="985.1" font-size="26.2" fill="#4d4d4d">Jun 30</text>
<line x1="1119.1" x2="1119.1" y1="953.4" y2="960.2" stroke="#333333" stroke-width="5.3"/>
<text x="1082.6" y="985.1" font-size="26.2" fill="#4d4d4d">Jul 20</text>
<line x1="1242.9" x2="1242.9" y1="953.4" y2="960.2" stroke="#333333" stroke-width="5.3"/>
<text x="1205.3" y="985.1" font-size="26.2" fill="#4d4d4d">Aug 09</text>
<text x="76.7" y="1035.5" font-size="36.48" fill="#000"><tspan font-weight="bold" font-size="31">(c)</tspan><tspan dx="-0.7"> Development of Thaw Depth over summer season</tspan></text>
<text transform="translate(22.4,1376.4) rotate(-90)" font-size="31.2" fill="#000">Thaw Depth [cm]</text>
<rect x="77.3" y="1061" width="405.5" height="41.6" fill="#333333"/>
<rect x="79.9" y="1063.6" width="400.3" height="35.1" fill="#d9d9d9"/>
<text x="280.05" y="1088.25" font-size="21" fill="#1a1a1a" text-anchor="middle">2018</text>
<rect x="78.6" y="1102.6" width="402.9" height="353.8" fill="#fff"/>
<clipPath id="c7"><rect x="78.6" y="1102.6" width="402.9" height="353.8"/></clipPath>
<g clip-path="url(#c7)">
<line x1="78.6" x2="481.5" y1="1433.85" y2="1433.85" stroke="#ebebeb" stroke-width="2.6"/>
<line x1="78.6" x2="481.5" y1="1363.55" y2="1363.55" stroke="#ebebeb" stroke-width="2.6"/>
<line x1="78.6" x2="481.5" y1="1293.25" y2="1293.25" stroke="#ebebeb" stroke-width="2.6"/>
<line x1="78.6" x2="481.5" y1="1222.95" y2="1222.95" stroke="#ebebeb" stroke-width="2.6"/>
<line x1="78.6" x2="481.5" y1="1152.65" y2="1152.65" stroke="#ebebeb" stroke-width="2.6"/>
<line x1="95.8" x2="95.8" y1="1102.6" y2="1456.4" stroke="#ebebeb" stroke-width="2.6"/>
<line x1="218.6" x2="218.6" y1="1102.6" y2="1456.4" stroke="#ebebeb" stroke-width="2.6"/>
<line x1="341.4" x2="341.4" y1="1102.6" y2="1456.4" stroke="#ebebeb" stroke-width="2.6"/>
<line x1="464.2" x2="464.2" y1="1102.6" y2="1456.4" stroke="#ebebeb" stroke-width="2.6"/>
<line x1="78.6" x2="481.5" y1="1398.7" y2="1398.7" stroke="#ebebeb" stroke-width="5.2"/>
<line x1="78.6" x2="481.5" y1="1328.4" y2="1328.4" stroke="#ebebeb" stroke-width="5.2"/>
<line x1="78.6" x2="481.5" y1="1258.1" y2="1258.1" stroke="#ebebeb" stroke-width="5.2"/>
<line x1="78.6" x2="481.5" y1="1187.8" y2="1187.8" stroke="#ebebeb" stroke-width="5.2"/>
<line x1="78.6" x2="481.5" y1="1117.5" y2="1117.5" stroke="#ebebeb" stroke-width="5.2"/>
<line x1="157.2" x2="157.2" y1="1102.6" y2="1456.4" stroke="#ebebeb" stroke-width="5.2"/>
<line x1="280" x2="280" y1="1102.6" y2="1456.4" stroke="#ebebeb" stroke-width="5.2"/>
<line x1="402.8" x2="402.8" y1="1102.6" y2="1456.4" stroke="#ebebeb" stroke-width="5.2"/>
<path d="M172.27 1426.82 L172.26 1424.62 L172.27 1422.43 L172.17 1420.23 L171.85 1418.03 L171.25 1416.71 L170.64 1415.4 L169.97 1414.08 L169.25 1412.76 L168.42 1411 L167.47 1409.24 L166.57 1407.49 L165.85 1405.73 L165.34 1404.04 L164.96 1402.36 L164.73 1400.67 L164.65 1398.98 L164.78 1396.45 L165.09 1393.92 L165.49 1391.39 L165.85 1388.86 L166.16 1386.31 L166.47 1383.76 L166.79 1381.21 L167.15 1378.66 L167.53 1376.12 L167.93 1373.57 L168.37 1371.02 L168.85 1368.47 L169.44 1365.83 L170.11 1363.2 L170.75 1360.56 L171.29 1357.93 L171.73 1355.47 L172.01 1353.01 L172.19 1350.54 L172.34 1348.08 L172.46 1339.65 L172.51 1331.21 L172.51 1322.78 L172.55 1314.34 L172.55 1314.34 L172.59 1322.78 L172.59 1331.21 L172.64 1339.65 L172.76 1348.08 L172.91 1350.54 L173.09 1353.01 L173.37 1355.47 L173.81 1357.93 L174.35 1360.56 L174.99 1363.2 L175.66 1365.83 L176.25 1368.47 L176.73 1371.02 L177.17 1373.57 L177.57 1376.12 L177.95 1378.66 L178.31 1381.21 L178.63 1383.76 L178.94 1386.31 L179.25 1388.86 L179.61 1391.39 L180.01 1393.92 L180.32 1396.45 L180.45 1398.98 L180.37 1400.67 L180.14 1402.36 L179.76 1404.04 L179.25 1405.73 L178.53 1407.49 L177.62 1409.24 L176.68 1411 L175.85 1412.76 L175.13 1414.08 L174.46 1415.4 L173.85 1416.71 L173.25 1418.03 L172.93 1420.23 L172.83 1422.43 L172.84 1424.62 L172.83 1426.82 Z" fill="#E69F00" fill-opacity="0.5" stroke="#E69F00" stroke-width="6.3" stroke-linejoin="round" stroke-linecap="round"/>
<path d="M190.69 1419.79 L190.67 1419.17 L190.66 1418.56 L190.56 1417.94 L190.27 1417.33 L189.74 1416.19 L189.19 1415.04 L188.6 1413.9 L187.97 1412.76 L187.25 1411 L186.43 1409.24 L185.64 1407.49 L184.97 1405.73 L184.44 1403.53 L183.98 1401.34 L183.65 1399.14 L183.47 1396.94 L183.51 1394.92 L183.73 1392.9 L184.02 1390.88 L184.27 1388.86 L184.49 1386.31 L184.73 1383.76 L184.93 1381.21 L185.07 1378.66 L185.08 1376.12 L184.99 1373.57 L184.96 1371.02 L184.97 1368.47 L185.15 1365.83 L185.42 1363.2 L185.79 1360.56 L186.27 1357.93 L186.97 1355.47 L187.83 1353.01 L188.69 1350.54 L189.37 1348.08 L189.9 1345.45 L190.32 1342.81 L190.61 1340.18 L190.83 1337.54 L190.93 1328.22 L190.93 1318.91 L190.93 1309.59 L190.97 1300.28 L190.97 1300.28 L191.01 1309.59 L191.01 1318.91 L191.01 1328.22 L191.11 1337.54 L191.33 1340.18 L191.62 1342.81 L192.04 1345.45 L192.57 1348.08 L193.25 1350.54 L194.11 1353.01 L194.97 1355.47 L195.67 1357.93 L196.15 1360.56 L196.52 1363.2 L196.79 1365.83 L196.97 1368.47 L196.98 1371.02 L196.95 1373.57 L196.86 1376.12 L196.87 1378.66 L197.01 1381.21 L197.21 1383.76 L197.45 1386.31 L197.67 1388.86 L197.92 1390.88 L198.21 1392.9 L198.43 1394.92 L198.47 1396.94 L198.29 1399.14 L197.96 1401.34 L197.5 1403.53 L196.97 1405.73 L196.3 1407.49 L195.51 1409.24 L194.69 1411 L193.97 1412.76 L193.34 1413.9 L192.75 1415.04 L192.2 1416.19 L191.67 1417.33 L191.38 1417.94 L191.28 1418.56 L191.27 1419.17 L191.25 1419.79 Z" fill="#56B4E9" fill-opacity="0.5" stroke="#56B4E9" stroke-width="6.3" stroke-linejoin="round" stroke-linecap="round"/>
<path d="M307.21 1391.67 L307.15 1389.91 L307.08 1388.15 L306.96 1386.4 L306.79 1384.64 L306.61 1383.06 L306.41 1381.48 L306.13 1379.89 L305.73 1378.31 L305.08 1375.5 L304.25 1372.69 L303.36 1369.88 L302.53 1367.07 L301.73 1364.25 L300.92 1361.44 L300.21 1358.63 L299.73 1355.82 L299.71 1353.01 L299.71 1350.19 L299.71 1347.38 L299.93 1344.57 L300.28 1340.35 L300.77 1336.13 L301.33 1331.91 L301.93 1327.7 L302.59 1322.07 L303.31 1316.45 L304.05 1310.83 L304.73 1305.2 L305.39 1300.28 L306.04 1295.36 L306.77 1290.44 L307.35 1285.52 L307.59 1282.18 L307.59 1278.84 L307.59 1275.5 L307.63 1272.16 L307.63 1272.16 L307.67 1275.5 L307.67 1278.84 L307.67 1282.18 L307.91 1285.52 L308.49 1290.44 L309.22 1295.36 L309.87 1300.28 L310.53 1305.2 L311.21 1310.83 L311.95 1316.45 L312.67 1322.07 L313.33 1327.7 L313.93 1331.91 L314.49 1336.13 L314.98 1340.35 L315.33 1344.57 L315.55 1347.38 L315.55 1350.19 L315.55 1353.01 L315.53 1355.82 L315.05 1358.63 L314.34 1361.44 L313.53 1364.25 L312.73 1367.07 L311.9 1369.88 L311.01 1372.69 L310.18 1375.5 L309.53 1378.31 L309.13 1379.89 L308.85 1381.48 L308.65 1383.06 L308.47 1384.64 L308.3 1386.4 L308.18 1388.15 L308.11 1389.91 L308.05 1391.67 Z" fill="#E69F00" fill-opacity="0.5" stroke="#E69F00" stroke-width="6.3" stroke-linejoin="round" stroke-linecap="round"/>
<path d="M325.77 1377.61 L325.72 1374.97 L325.66 1372.34 L325.54 1369.7 L325.35 1367.07 L325.08 1364.25 L324.75 1361.44 L324.42 1358.63 L324.05 1355.82 L323.59 1351.6 L323.04 1347.38 L322.45 1343.16 L321.85 1338.94 L321.19 1334.73 L320.48 1330.51 L319.8 1326.29 L319.25 1322.07 L318.83 1318.38 L318.49 1314.69 L318.26 1311 L318.15 1307.31 L318.17 1305.38 L318.3 1303.44 L318.53 1301.51 L318.85 1299.58 L319.27 1295.18 L319.79 1290.79 L320.36 1286.4 L320.95 1282 L321.58 1277.78 L322.27 1273.57 L322.93 1269.35 L323.45 1265.13 L323.78 1260.91 L323.98 1256.69 L324.14 1252.48 L324.35 1248.26 L324.66 1244.57 L325.14 1240.88 L325.59 1237.19 L325.91 1233.49 L326.01 1223.83 L326.01 1214.16 L326.01 1204.5 L326.05 1194.83 L326.05 1194.83 L326.09 1204.5 L326.09 1214.16 L326.09 1223.83 L326.19 1233.49 L326.51 1237.19 L326.96 1240.88 L327.44 1244.57 L327.75 1248.26 L327.96 1252.48 L328.12 1256.69 L328.32 1260.91 L328.65 1265.13 L329.17 1269.35 L329.82 1273.57 L330.52 1277.78 L331.15 1282 L331.74 1286.4 L332.31 1290.79 L332.83 1295.18 L333.25 1299.58 L333.57 1301.51 L333.8 1303.44 L333.93 1305.38 L333.95 1307.31 L333.84 1311 L333.61 1314.69 L333.27 1318.38 L332.85 1322.07 L332.3 1326.29 L331.62 1330.51 L330.91 1334.73 L330.25 1338.94 L329.65 1343.16 L329.06 1347.38 L328.51 1351.6 L328.05 1355.82 L327.68 1358.63 L327.35 1361.44 L327.02 1364.25 L326.75 1367.07 L326.56 1369.7 L326.44 1372.34 L326.38 1374.97 L326.33 1377.61 Z" fill="#56B4E9" fill-opacity="0.5" stroke="#56B4E9" stroke-width="6.3" stroke-linejoin="round" stroke-linecap="round"/>
<path d="M368.75 1391.67 L368.7 1388.33 L368.64 1384.99 L368.52 1381.65 L368.33 1378.31 L368.05 1375.5 L367.71 1372.69 L367.39 1369.88 L367.03 1367.07 L366.61 1364.25 L366.14 1361.44 L365.61 1358.63 L365.03 1355.82 L364.34 1353.01 L363.56 1350.19 L362.81 1347.38 L362.23 1344.57 L361.8 1341.76 L361.47 1338.94 L361.35 1336.13 L361.43 1333.32 L361.94 1329.1 L362.77 1324.88 L363.68 1320.67 L364.43 1316.45 L364.95 1310.65 L365.36 1304.85 L365.74 1299.05 L366.13 1293.25 L366.58 1287.63 L367.04 1282 L367.48 1276.38 L367.91 1270.75 L368.27 1268.47 L368.54 1266.18 L368.74 1263.9 L368.89 1261.62 L368.99 1251.95 L368.99 1242.28 L368.99 1232.62 L369.03 1222.95 L369.03 1222.95 L369.07 1232.62 L369.07 1242.28 L369.07 1251.95 L369.17 1261.62 L369.32 1263.9 L369.52 1266.18 L369.79 1268.47 L370.15 1270.75 L370.58 1276.38 L371.02 1282 L371.48 1287.63 L371.93 1293.25 L372.32 1299.05 L372.7 1304.85 L373.11 1310.65 L373.63 1316.45 L374.38 1320.67 L375.29 1324.88 L376.12 1329.1 L376.63 1333.32 L376.71 1336.13 L376.59 1338.94 L376.26 1341.76 L375.83 1344.57 L375.25 1347.38 L374.51 1350.19 L373.72 1353.01 L373.03 1355.82 L372.45 1358.63 L371.92 1361.44 L371.45 1364.25 L371.03 1367.07 L370.67 1369.88 L370.35 1372.69 L370.01 1375.5 L369.73 1378.31 L369.54 1381.65 L369.42 1384.99 L369.36 1388.33 L369.31 1391.67 Z" fill="#E69F00" fill-opacity="0.5" stroke="#E69F00" stroke-width="6.3" stroke-linejoin="round" stroke-linecap="round"/>
<path d="M387.03 1360.04 L386.92 1358.98 L386.78 1357.93 L386.58 1356.87 L386.33 1355.82 L386.05 1353.01 L385.83 1350.19 L385.54 1347.38 L385.15 1344.57 L384.59 1340.35 L383.9 1336.13 L383.19 1331.91 L382.55 1327.7 L382 1323.48 L381.49 1319.26 L381.03 1315.04 L380.65 1310.83 L380.34 1306.43 L380.11 1302.04 L379.94 1297.64 L379.85 1293.25 L379.85 1290.44 L379.94 1287.63 L380.09 1284.81 L380.25 1282 L380.43 1277.78 L380.64 1273.57 L380.88 1269.35 L381.15 1265.13 L381.45 1260.91 L381.78 1256.69 L382.15 1252.48 L382.55 1248.26 L383.01 1244.04 L383.53 1239.82 L384.06 1235.6 L384.55 1231.39 L385.02 1227.17 L385.48 1222.95 L385.9 1218.73 L386.33 1214.51 L386.69 1212.23 L386.96 1209.94 L387.16 1207.66 L387.31 1205.38 L387.41 1192.19 L387.41 1179.01 L387.41 1165.83 L387.45 1152.65 L387.45 1152.65 L387.49 1165.83 L387.49 1179.01 L387.49 1192.19 L387.59 1205.38 L387.74 1207.66 L387.94 1209.94 L388.21 1212.23 L388.57 1214.51 L389 1218.73 L389.42 1222.95 L389.88 1227.17 L390.35 1231.39 L390.84 1235.6 L391.37 1239.82 L391.89 1244.04 L392.35 1248.26 L392.75 1252.48 L393.12 1256.69 L393.45 1260.91 L393.75 1265.13 L394.02 1269.35 L394.26 1273.57 L394.47 1277.78 L394.65 1282 L394.81 1284.81 L394.96 1287.63 L395.05 1290.44 L395.05 1293.25 L394.96 1297.64 L394.79 1302.04 L394.56 1306.43 L394.25 1310.83 L393.87 1315.04 L393.41 1319.26 L392.9 1323.48 L392.35 1327.7 L391.71 1331.91 L391 1336.13 L390.31 1340.35 L389.75 1344.57 L389.36 1347.38 L389.07 1350.19 L388.85 1353.01 L388.57 1355.82 L388.32 1356.87 L388.12 1357.93 L387.98 1358.98 L387.87 1360.04 Z" fill="#56B4E9" fill-opacity="0.5" stroke="#56B4E9" stroke-width="6.3" stroke-linejoin="round" stroke-linecap="round"/>
<rect x="163.76" y="1388.97" width="20.6" height="5.4" rx="1.2" fill="#E69F00"/>
<rect x="179.16" y="1381.94" width="20.6" height="5.4" rx="1.2" fill="#56B4E9"/>
<rect x="298.84" y="1339.76" width="20.6" height="5.4" rx="1.2" fill="#E69F00"/>
<rect x="314.24" y="1304.61" width="20.6" height="5.4" rx="1.2" fill="#56B4E9"/>
<rect x="360.24" y="1332.73" width="20.6" height="5.4" rx="1.2" fill="#E69F00"/>
<rect x="375.64" y="1283.52" width="20.6" height="5.4" rx="1.2" fill="#56B4E9"/>
<rect x="166.36" y="1384.82" width="15.4" height="13.7" fill="#E69F00"/>
<rect x="181.76" y="1377.79" width="15.4" height="13.7" fill="#56B4E9"/>
<rect x="301.44" y="1335.61" width="15.4" height="13.7" fill="#E69F00"/>
<rect x="316.84" y="1300.46" width="15.4" height="13.7" fill="#56B4E9"/>
<rect x="362.84" y="1328.58" width="15.4" height="13.7" fill="#E69F00"/>
<rect x="378.24" y="1279.37" width="15.4" height="13.7" fill="#56B4E9"/>
<text x="317.54" y="1122.9" font-size="21.5" letter-spacing="1.35" fill="#000" text-anchor="middle">***</text>
<text x="378.94" y="1122.9" font-size="21.5" letter-spacing="1.35" fill="#000" text-anchor="middle">***</text>
</g><g>
</g>
<rect x="78.6" y="1102.6" width="402.9" height="353.8" fill="none" stroke="#333333" stroke-width="2.6"/>
<line x1="157.2" x2="157.2" y1="1457.5" y2="1464.3" stroke="#333333" stroke-width="5.3"/>
<text x="128.4" y="1489.2" font-size="26.2" fill="#4d4d4d">Jun 30</text>
<line x1="280" x2="280" y1="1457.5" y2="1464.3" stroke="#333333" stroke-width="5.3"/>
<text x="250.9" y="1489.2" font-size="26.2" fill="#4d4d4d">Jul 20</text>
<line x1="402.8" x2="402.8" y1="1457.5" y2="1464.3" stroke="#333333" stroke-width="5.3"/>
<text x="373.3" y="1489.2" font-size="26.2" fill="#4d4d4d">Aug 09</text>
<line x1="70.7" x2="77.5" y1="1398.7" y2="1398.7" stroke="#333333" stroke-width="5.3"/>
<text x="65.9" y="1406.2" font-size="26.2" fill="#4d4d4d" text-anchor="end">10</text>
<line x1="70.7" x2="77.5" y1="1328.4" y2="1328.4" stroke="#333333" stroke-width="5.3"/>
<text x="65.9" y="1335.9" font-size="26.2" fill="#4d4d4d" text-anchor="end">20</text>
<line x1="70.7" x2="77.5" y1="1258.1" y2="1258.1" stroke="#333333" stroke-width="5.3"/>
<text x="65.9" y="1265.6" font-size="26.2" fill="#4d4d4d" text-anchor="end">30</text>
<line x1="70.7" x2="77.5" y1="1187.8" y2="1187.8" stroke="#333333" stroke-width="5.3"/>
<text x="65.9" y="1195.3" font-size="26.2" fill="#4d4d4d" text-anchor="end">40</text>
<line x1="70.7" x2="77.5" y1="1117.5" y2="1117.5" stroke="#333333" stroke-width="5.3"/>
<text x="65.9" y="1125" font-size="26.2" fill="#4d4d4d" text-anchor="end">50</text>
<rect x="497.3" y="1061" width="404" height="41.6" fill="#333333"/>
<rect x="499.9" y="1063.6" width="398.8" height="35.1" fill="#d9d9d9"/>
<text x="699.3" y="1088.25" font-size="21" fill="#1a1a1a" text-anchor="middle">2019</text>
<rect x="498.6" y="1102.6" width="401.4" height="353.8" fill="#fff"/>
<clipPath id="c8"><rect x="498.6" y="1102.6" width="401.4" height="353.8"/></clipPath>
<g clip-path="url(#c8)">
<line x1="498.6" x2="900" y1="1433.85" y2="1433.85" stroke="#ebebeb" stroke-width="2.6"/>
<line x1="498.6" x2="900" y1="1363.55" y2="1363.55" stroke="#ebebeb" stroke-width="2.6"/>
<line x1="498.6" x2="900" y1="1293.25" y2="1293.25" stroke="#ebebeb" stroke-width="2.6"/>
<line x1="498.6" x2="900" y1="1222.95" y2="1222.95" stroke="#ebebeb" stroke-width="2.6"/>
<line x1="498.6" x2="900" y1="1152.65" y2="1152.65" stroke="#ebebeb" stroke-width="2.6"/>
<line x1="515.6" x2="515.6" y1="1102.6" y2="1456.4" stroke="#ebebeb" stroke-width="2.6"/>
<line x1="638.4" x2="638.4" y1="1102.6" y2="1456.4" stroke="#ebebeb" stroke-width="2.6"/>
<line x1="761.2" x2="761.2" y1="1102.6" y2="1456.4" stroke="#ebebeb" stroke-width="2.6"/>
<line x1="884" x2="884" y1="1102.6" y2="1456.4" stroke="#ebebeb" stroke-width="2.6"/>
<line x1="498.6" x2="900" y1="1398.7" y2="1398.7" stroke="#ebebeb" stroke-width="5.2"/>
<line x1="498.6" x2="900" y1="1328.4" y2="1328.4" stroke="#ebebeb" stroke-width="5.2"/>
<line x1="498.6" x2="900" y1="1258.1" y2="1258.1" stroke="#ebebeb" stroke-width="5.2"/>
<line x1="498.6" x2="900" y1="1187.8" y2="1187.8" stroke="#ebebeb" stroke-width="5.2"/>
<line x1="498.6" x2="900" y1="1117.5" y2="1117.5" stroke="#ebebeb" stroke-width="5.2"/>
<line x1="577" x2="577" y1="1102.6" y2="1456.4" stroke="#ebebeb" stroke-width="5.2"/>
<line x1="699.8" x2="699.8" y1="1102.6" y2="1456.4" stroke="#ebebeb" stroke-width="5.2"/>
<line x1="822.6" x2="822.6" y1="1102.6" y2="1456.4" stroke="#ebebeb" stroke-width="5.2"/>
<path d="M567.51 1412.76 L567.52 1410.12 L567.52 1407.49 L567.52 1404.85 L567.37 1402.21 L567.08 1399.4 L566.68 1396.59 L566.23 1393.78 L565.79 1390.97 L565.23 1388.33 L564.57 1385.69 L563.87 1383.06 L563.19 1380.42 L562.49 1377.79 L561.76 1375.15 L561.1 1372.51 L560.59 1369.88 L560.27 1367.24 L560.09 1364.6 L560.01 1361.97 L559.99 1359.33 L560.03 1355.47 L560.16 1351.6 L560.35 1347.73 L560.59 1343.87 L560.89 1338.59 L561.26 1333.32 L561.67 1328.05 L562.09 1322.78 L562.53 1317.5 L563 1312.23 L563.48 1306.96 L563.99 1301.69 L564.54 1296.41 L565.14 1291.14 L565.71 1285.87 L566.19 1280.6 L566.64 1278.49 L567.06 1276.38 L567.4 1274.27 L567.65 1272.16 L567.75 1268.64 L567.75 1265.13 L567.75 1261.62 L567.79 1258.1 L567.79 1258.1 L567.83 1261.62 L567.83 1265.13 L567.83 1268.64 L567.93 1272.16 L568.18 1274.27 L568.52 1276.38 L568.94 1278.49 L569.39 1280.6 L569.87 1285.87 L570.44 1291.14 L571.04 1296.41 L571.59 1301.69 L572.1 1306.96 L572.58 1312.23 L573.05 1317.5 L573.49 1322.78 L573.91 1328.05 L574.32 1333.32 L574.69 1338.59 L574.99 1343.87 L575.23 1347.73 L575.42 1351.6 L575.55 1355.47 L575.59 1359.33 L575.57 1361.97 L575.49 1364.6 L575.31 1367.24 L574.99 1369.88 L574.48 1372.51 L573.81 1375.15 L573.09 1377.79 L572.39 1380.42 L571.71 1383.06 L571.01 1385.69 L570.35 1388.33 L569.79 1390.97 L569.35 1393.78 L568.9 1396.59 L568.5 1399.4 L568.21 1402.21 L568.06 1404.85 L568.06 1407.49 L568.06 1410.12 L568.07 1412.76 Z" fill="#E69F00" fill-opacity="0.5" stroke="#E69F00" stroke-width="6.3" stroke-linejoin="round" stroke-linecap="round"/>
<path d="M585.93 1405.73 L585.81 1403.45 L585.64 1401.16 L585.41 1398.88 L585.09 1396.59 L584.72 1393.95 L584.37 1391.32 L583.97 1388.68 L583.51 1386.05 L582.97 1383.41 L582.35 1380.77 L581.71 1378.14 L581.11 1375.5 L580.53 1372.86 L579.95 1370.23 L579.42 1367.59 L579.01 1364.96 L578.73 1362.32 L578.54 1359.68 L578.44 1357.05 L578.41 1354.41 L578.45 1351.77 L578.58 1349.14 L578.77 1346.5 L579.01 1343.87 L579.32 1338.59 L579.7 1333.32 L580.11 1328.05 L580.51 1322.78 L580.9 1317.5 L581.3 1312.23 L581.71 1306.96 L582.11 1301.69 L582.52 1296.41 L582.93 1291.14 L583.33 1285.87 L583.71 1280.6 L584.07 1275.24 L584.42 1269.88 L584.73 1264.51 L585.09 1259.15 L585.41 1257.13 L585.69 1255.11 L585.9 1253.09 L586.07 1251.07 L586.17 1238.77 L586.17 1226.46 L586.17 1214.16 L586.21 1201.86 L586.21 1201.86 L586.25 1214.16 L586.25 1226.46 L586.25 1238.77 L586.35 1251.07 L586.52 1253.09 L586.74 1255.11 L587.01 1257.13 L587.33 1259.15 L587.69 1264.51 L588 1269.88 L588.35 1275.24 L588.71 1280.6 L589.09 1285.87 L589.49 1291.14 L589.9 1296.41 L590.31 1301.69 L590.71 1306.96 L591.12 1312.23 L591.52 1317.5 L591.91 1322.78 L592.31 1328.05 L592.72 1333.32 L593.1 1338.59 L593.41 1343.87 L593.65 1346.5 L593.84 1349.14 L593.97 1351.77 L594.01 1354.41 L593.98 1357.05 L593.88 1359.68 L593.69 1362.32 L593.41 1364.96 L593 1367.59 L592.47 1370.23 L591.89 1372.86 L591.31 1375.5 L590.71 1378.14 L590.07 1380.77 L589.45 1383.41 L588.91 1386.05 L588.45 1388.68 L588.05 1391.32 L587.7 1393.95 L587.33 1396.59 L587.01 1398.88 L586.78 1401.16 L586.61 1403.45 L586.49 1405.73 Z" fill="#56B4E9" fill-opacity="0.5" stroke="#56B4E9" stroke-width="6.3" stroke-linejoin="round" stroke-linecap="round"/>
<path d="M708.87 1370.58 L708.7 1367.59 L708.47 1364.6 L708.12 1361.62 L707.61 1358.63 L707.07 1355.99 L706.4 1353.36 L705.68 1350.72 L705.01 1348.08 L704.37 1345.1 L703.72 1342.11 L703.14 1339.12 L702.71 1336.13 L702.47 1334.2 L702.38 1332.27 L702.38 1330.33 L702.41 1328.4 L702.52 1325.76 L702.73 1323.13 L702.92 1320.49 L703.01 1317.86 L702.96 1314.87 L702.82 1311.88 L702.63 1308.89 L702.41 1305.9 L702.12 1302.04 L701.75 1298.17 L701.42 1294.3 L701.21 1290.44 L701.18 1286.75 L701.24 1283.06 L701.36 1279.37 L701.51 1275.67 L701.67 1271.81 L701.85 1267.94 L702.07 1264.08 L702.31 1260.21 L702.55 1256.52 L702.8 1252.83 L703.1 1249.14 L703.51 1245.45 L704.07 1241.76 L704.74 1238.06 L705.44 1234.37 L706.11 1230.68 L706.78 1226.82 L707.47 1222.95 L708.26 1219.08 L708.87 1215.22 L708.97 1213.64 L708.97 1212.05 L708.97 1210.47 L709.01 1208.89 L709.01 1208.89 L709.05 1210.47 L709.05 1212.05 L709.05 1213.64 L709.15 1215.22 L709.76 1219.08 L710.55 1222.95 L711.24 1226.82 L711.91 1230.68 L712.58 1234.37 L713.28 1238.06 L713.95 1241.76 L714.51 1245.45 L714.92 1249.14 L715.22 1252.83 L715.47 1256.52 L715.71 1260.21 L715.95 1264.08 L716.17 1267.94 L716.35 1271.81 L716.51 1275.67 L716.66 1279.37 L716.78 1283.06 L716.84 1286.75 L716.81 1290.44 L716.6 1294.3 L716.27 1298.17 L715.9 1302.04 L715.61 1305.9 L715.39 1308.89 L715.2 1311.88 L715.06 1314.87 L715.01 1317.86 L715.1 1320.49 L715.29 1323.13 L715.5 1325.76 L715.61 1328.4 L715.64 1330.33 L715.64 1332.27 L715.55 1334.2 L715.31 1336.13 L714.88 1339.12 L714.3 1342.11 L713.65 1345.1 L713.01 1348.08 L712.34 1350.72 L711.62 1353.36 L710.95 1355.99 L710.41 1358.63 L709.9 1361.62 L709.55 1364.6 L709.32 1367.59 L709.15 1370.58 Z" fill="#E69F00" fill-opacity="0.5" stroke="#E69F00" stroke-width="6.3" stroke-linejoin="round" stroke-linecap="round"/>
<path d="M727.15 1342.46 L726.99 1340 L726.77 1337.54 L726.46 1335.08 L726.03 1332.62 L725.59 1329.63 L725.06 1326.64 L724.48 1323.65 L723.93 1320.67 L723.39 1316.98 L722.83 1313.29 L722.32 1309.59 L721.93 1305.9 L721.7 1302.04 L721.59 1298.17 L721.53 1294.3 L721.43 1290.44 L721.29 1286.75 L721.16 1283.06 L721 1279.37 L720.83 1275.67 L720.58 1271.46 L720.29 1267.24 L720.04 1263.02 L719.93 1258.8 L720.01 1256.17 L720.21 1253.53 L720.5 1250.89 L720.83 1248.26 L721.19 1245.62 L721.61 1242.99 L722.09 1240.35 L722.63 1237.71 L723.3 1234.02 L724.08 1230.33 L724.83 1226.64 L725.43 1222.95 L725.82 1219.08 L726.08 1215.22 L726.34 1211.35 L726.59 1207.48 L726.86 1204.32 L727.1 1201.16 L727.29 1197.99 L727.43 1194.83 L727.43 1194.83 L727.57 1197.99 L727.76 1201.16 L728 1204.32 L728.27 1207.48 L728.52 1211.35 L728.78 1215.22 L729.04 1219.08 L729.43 1222.95 L730.03 1226.64 L730.78 1230.33 L731.56 1234.02 L732.23 1237.71 L732.77 1240.35 L733.25 1242.99 L733.67 1245.62 L734.03 1248.26 L734.36 1250.89 L734.65 1253.53 L734.85 1256.17 L734.93 1258.8 L734.82 1263.02 L734.57 1267.24 L734.28 1271.46 L734.03 1275.67 L733.86 1279.37 L733.71 1283.06 L733.57 1286.75 L733.43 1290.44 L733.33 1294.3 L733.27 1298.17 L733.16 1302.04 L732.93 1305.9 L732.54 1309.59 L732.03 1313.29 L731.47 1316.98 L730.93 1320.67 L730.38 1323.65 L729.81 1326.64 L729.27 1329.63 L728.83 1332.62 L728.4 1335.08 L728.09 1337.54 L727.87 1340 L727.71 1342.46 Z" fill="#56B4E9" fill-opacity="0.5" stroke="#56B4E9" stroke-width="6.3" stroke-linejoin="round" stroke-linecap="round"/>
<path d="M806.97 1363.55 L806.8 1360.39 L806.57 1357.22 L806.25 1354.06 L805.85 1350.9 L805.47 1347.21 L805.02 1343.51 L804.53 1339.82 L804.05 1336.13 L803.58 1332.27 L803.11 1328.4 L802.63 1324.53 L802.15 1320.67 L801.65 1316.98 L801.13 1313.29 L800.65 1309.59 L800.25 1305.9 L799.94 1302.04 L799.68 1298.17 L799.51 1294.3 L799.45 1290.44 L799.52 1286.75 L799.71 1283.06 L799.96 1279.37 L800.25 1275.67 L800.56 1271.81 L800.91 1267.94 L801.3 1264.08 L801.75 1260.21 L802.27 1256.52 L802.86 1252.83 L803.46 1249.14 L804.05 1245.45 L804.65 1241.76 L805.26 1238.06 L805.82 1234.37 L806.41 1230.68 L806.77 1228.75 L806.94 1226.82 L807.03 1224.88 L807.11 1222.95 L807.19 1217.68 L807.21 1212.4 L807.21 1207.13 L807.25 1201.86 L807.25 1201.86 L807.29 1207.13 L807.29 1212.4 L807.31 1217.68 L807.39 1222.95 L807.47 1224.88 L807.56 1226.82 L807.73 1228.75 L808.09 1230.68 L808.68 1234.37 L809.24 1238.06 L809.85 1241.76 L810.45 1245.45 L811.04 1249.14 L811.64 1252.83 L812.23 1256.52 L812.75 1260.21 L813.2 1264.08 L813.59 1267.94 L813.94 1271.81 L814.25 1275.67 L814.54 1279.37 L814.79 1283.06 L814.98 1286.75 L815.05 1290.44 L814.99 1294.3 L814.82 1298.17 L814.56 1302.04 L814.25 1305.9 L813.85 1309.59 L813.37 1313.29 L812.85 1316.98 L812.35 1320.67 L811.87 1324.53 L811.39 1328.4 L810.92 1332.27 L810.45 1336.13 L809.97 1339.82 L809.48 1343.51 L809.03 1347.21 L808.65 1350.9 L808.25 1354.06 L807.93 1357.22 L807.7 1360.39 L807.53 1363.55 Z" fill="#E69F00" fill-opacity="0.5" stroke="#E69F00" stroke-width="6.3" stroke-linejoin="round" stroke-linecap="round"/>
<path d="M825.39 1363.55 L825.31 1360.39 L825.2 1357.22 L825.04 1354.06 L824.83 1350.9 L824.56 1347.21 L824.24 1343.51 L823.97 1339.82 L823.67 1336.13 L823.33 1332.27 L822.96 1328.4 L822.56 1324.53 L822.17 1320.67 L821.77 1316.98 L821.35 1313.29 L820.94 1309.59 L820.57 1305.9 L820.23 1302.04 L819.93 1298.17 L819.64 1294.3 L819.37 1290.44 L819.11 1286.75 L818.86 1283.06 L818.65 1279.37 L818.47 1275.67 L818.32 1271.81 L818.21 1267.94 L818.15 1264.08 L818.17 1260.21 L818.3 1256.52 L818.51 1252.83 L818.77 1249.14 L819.07 1245.45 L819.39 1241.76 L819.74 1238.06 L820.13 1234.37 L820.57 1230.68 L821.08 1224.88 L821.65 1219.08 L822.22 1213.28 L822.77 1207.48 L823.3 1201.86 L823.83 1196.24 L824.31 1190.61 L824.83 1184.99 L825.16 1183.05 L825.34 1181.12 L825.44 1179.19 L825.53 1177.26 L825.61 1172.86 L825.63 1168.47 L825.63 1164.07 L825.67 1159.68 L825.67 1159.68 L825.71 1164.07 L825.71 1168.47 L825.73 1172.86 L825.81 1177.26 L825.9 1179.19 L826 1181.12 L826.18 1183.05 L826.51 1184.99 L827.03 1190.61 L827.51 1196.24 L828.04 1201.86 L828.57 1207.48 L829.12 1213.28 L829.7 1219.08 L830.26 1224.88 L830.77 1230.68 L831.21 1234.37 L831.6 1238.06 L831.95 1241.76 L832.27 1245.45 L832.57 1249.14 L832.83 1252.83 L833.04 1256.52 L833.17 1260.21 L833.19 1264.08 L833.13 1267.94 L833.02 1271.81 L832.87 1275.67 L832.69 1279.37 L832.48 1283.06 L832.23 1286.75 L831.97 1290.44 L831.7 1294.3 L831.41 1298.17 L831.11 1302.04 L830.77 1305.9 L830.4 1309.59 L829.99 1313.29 L829.57 1316.98 L829.17 1320.67 L828.78 1324.53 L828.38 1328.4 L828.01 1332.27 L827.67 1336.13 L827.37 1339.82 L827.1 1343.51 L826.78 1347.21 L826.51 1350.9 L826.3 1354.06 L826.14 1357.22 L826.03 1360.39 L825.95 1363.55 Z" fill="#56B4E9" fill-opacity="0.5" stroke="#56B4E9" stroke-width="6.3" stroke-linejoin="round" stroke-linecap="round"/>
<rect x="559" y="1339.76" width="20.6" height="5.4" rx="1.2" fill="#E69F00"/>
<rect x="574.4" y="1339.76" width="20.6" height="5.4" rx="1.2" fill="#56B4E9"/>
<rect x="700.22" y="1290.55" width="20.6" height="5.4" rx="1.2" fill="#E69F00"/>
<rect x="715.62" y="1276.49" width="20.6" height="5.4" rx="1.2" fill="#56B4E9"/>
<rect x="798.46" y="1290.55" width="20.6" height="5.4" rx="1.2" fill="#E69F00"/>
<rect x="813.86" y="1262.43" width="20.6" height="5.4" rx="1.2" fill="#56B4E9"/>
<rect x="561.6" y="1335.61" width="15.4" height="13.7" fill="#E69F00"/>
<rect x="577" y="1335.61" width="15.4" height="13.7" fill="#56B4E9"/>
<rect x="702.82" y="1286.4" width="15.4" height="13.7" fill="#E69F00"/>
<rect x="718.22" y="1272.34" width="15.4" height="13.7" fill="#56B4E9"/>
<rect x="801.06" y="1286.4" width="15.4" height="13.7" fill="#E69F00"/>
<rect x="816.46" y="1258.28" width="15.4" height="13.7" fill="#56B4E9"/>
<text x="718.22" y="1127" font-size="24.5" fill="#000" text-anchor="middle">+</text>
<text x="817.16" y="1122.9" font-size="21.5" letter-spacing="1.35" fill="#000" text-anchor="middle">**</text>
</g><g>
</g>
<rect x="498.6" y="1102.6" width="401.4" height="353.8" fill="none" stroke="#333333" stroke-width="2.6"/>
<line x1="577" x2="577" y1="1457.5" y2="1464.3" stroke="#333333" stroke-width="5.3"/>
<text x="544.9" y="1489.2" font-size="26.2" fill="#4d4d4d">Jun 30</text>
<line x1="699.8" x2="699.8" y1="1457.5" y2="1464.3" stroke="#333333" stroke-width="5.3"/>
<text x="667.3" y="1489.2" font-size="26.2" fill="#4d4d4d">Jul 20</text>
<line x1="822.6" x2="822.6" y1="1457.5" y2="1464.3" stroke="#333333" stroke-width="5.3"/>
<text x="789.8" y="1489.2" font-size="26.2" fill="#4d4d4d">Aug 09</text>
<rect x="917" y="1061" width="404.9" height="41.6" fill="#333333"/>
<rect x="919.6" y="1063.6" width="399.7" height="35.1" fill="#d9d9d9"/>
<text x="1119.45" y="1088.25" font-size="21" fill="#1a1a1a" text-anchor="middle">2020</text>
<rect x="918.3" y="1102.6" width="402.3" height="353.8" fill="#fff"/>
<clipPath id="c9"><rect x="918.3" y="1102.6" width="402.3" height="353.8"/></clipPath>
<g clip-path="url(#c9)">
<line x1="918.3" x2="1320.6" y1="1433.85" y2="1433.85" stroke="#ebebeb" stroke-width="2.6"/>
<line x1="918.3" x2="1320.6" y1="1363.55" y2="1363.55" stroke="#ebebeb" stroke-width="2.6"/>
<line x1="918.3" x2="1320.6" y1="1293.25" y2="1293.25" stroke="#ebebeb" stroke-width="2.6"/>
<line x1="918.3" x2="1320.6" y1="1222.95" y2="1222.95" stroke="#ebebeb" stroke-width="2.6"/>
<line x1="918.3" x2="1320.6" y1="1152.65" y2="1152.65" stroke="#ebebeb" stroke-width="2.6"/>
<line x1="935.2" x2="935.2" y1="1102.6" y2="1456.4" stroke="#ebebeb" stroke-width="2.6"/>
<line x1="1058" x2="1058" y1="1102.6" y2="1456.4" stroke="#ebebeb" stroke-width="2.6"/>
<line x1="1180.8" x2="1180.8" y1="1102.6" y2="1456.4" stroke="#ebebeb" stroke-width="2.6"/>
<line x1="1303.6" x2="1303.6" y1="1102.6" y2="1456.4" stroke="#ebebeb" stroke-width="2.6"/>
<line x1="918.3" x2="1320.6" y1="1398.7" y2="1398.7" stroke="#ebebeb" stroke-width="5.2"/>
<line x1="918.3" x2="1320.6" y1="1328.4" y2="1328.4" stroke="#ebebeb" stroke-width="5.2"/>
<line x1="918.3" x2="1320.6" y1="1258.1" y2="1258.1" stroke="#ebebeb" stroke-width="5.2"/>
<line x1="918.3" x2="1320.6" y1="1187.8" y2="1187.8" stroke="#ebebeb" stroke-width="5.2"/>
<line x1="918.3" x2="1320.6" y1="1117.5" y2="1117.5" stroke="#ebebeb" stroke-width="5.2"/>
<line x1="996.6" x2="996.6" y1="1102.6" y2="1456.4" stroke="#ebebeb" stroke-width="5.2"/>
<line x1="1119.4" x2="1119.4" y1="1102.6" y2="1456.4" stroke="#ebebeb" stroke-width="5.2"/>
<line x1="1242.2" x2="1242.2" y1="1102.6" y2="1456.4" stroke="#ebebeb" stroke-width="5.2"/>
<path d="M1159.17 1440.88 L1158.98 1435.96 L1158.71 1431.04 L1158.39 1426.12 L1158.05 1421.2 L1157.76 1417.86 L1157.49 1414.52 L1157.21 1411.18 L1156.91 1407.84 L1156.61 1404.32 L1156.3 1400.81 L1155.97 1397.29 L1155.61 1393.78 L1155.21 1390.44 L1154.78 1387.1 L1154.34 1383.76 L1153.91 1380.42 L1153.48 1377.08 L1153.05 1373.74 L1152.65 1370.4 L1152.31 1367.07 L1152.03 1362.85 L1151.78 1358.63 L1151.61 1354.41 L1151.51 1350.19 L1151.51 1347.56 L1151.6 1344.92 L1151.74 1342.28 L1151.91 1339.65 L1152.09 1336.31 L1152.3 1332.97 L1152.57 1329.63 L1152.91 1326.29 L1153.35 1322.78 L1153.88 1319.26 L1154.45 1315.75 L1155.01 1312.23 L1155.59 1307.13 L1156.2 1302.04 L1156.79 1296.94 L1157.31 1291.84 L1157.75 1286.75 L1158.23 1281.65 L1158.69 1276.55 L1159.03 1271.46 L1159.22 1264.6 L1159.27 1257.75 L1159.27 1250.89 L1159.31 1244.04 L1159.31 1244.04 L1159.35 1250.89 L1159.35 1257.75 L1159.4 1264.6 L1159.59 1271.46 L1159.93 1276.55 L1160.39 1281.65 L1160.87 1286.75 L1161.31 1291.84 L1161.83 1296.94 L1162.42 1302.04 L1163.03 1307.13 L1163.61 1312.23 L1164.17 1315.75 L1164.74 1319.26 L1165.27 1322.78 L1165.71 1326.29 L1166.05 1329.63 L1166.32 1332.97 L1166.53 1336.31 L1166.71 1339.65 L1166.88 1342.28 L1167.02 1344.92 L1167.11 1347.56 L1167.11 1350.19 L1167.01 1354.41 L1166.84 1358.63 L1166.59 1362.85 L1166.31 1367.07 L1165.97 1370.4 L1165.57 1373.74 L1165.14 1377.08 L1164.71 1380.42 L1164.28 1383.76 L1163.84 1387.1 L1163.41 1390.44 L1163.01 1393.78 L1162.65 1397.29 L1162.32 1400.81 L1162.01 1404.32 L1161.71 1407.84 L1161.41 1411.18 L1161.13 1414.52 L1160.86 1417.86 L1160.57 1421.2 L1160.23 1426.12 L1159.91 1431.04 L1159.64 1435.96 L1159.45 1440.88 Z" fill="#E69F00" fill-opacity="0.5" stroke="#E69F00" stroke-width="6.3" stroke-linejoin="round" stroke-linecap="round"/>
<path d="M1173.73 1398.7 L1173.54 1396.94 L1173.26 1395.18 L1172.94 1393.43 L1172.63 1391.67 L1172.31 1388.86 L1171.97 1386.05 L1171.64 1383.23 L1171.33 1380.42 L1171.04 1377.08 L1170.76 1373.74 L1170.51 1370.4 L1170.33 1367.07 L1170.25 1361.97 L1170.24 1356.87 L1170.25 1351.77 L1170.23 1346.68 L1170.16 1341.58 L1170.07 1336.48 L1169.99 1331.39 L1169.93 1326.29 L1169.93 1321.19 L1169.93 1316.1 L1169.93 1311 L1169.93 1305.9 L1170.07 1300.81 L1170.27 1295.71 L1170.5 1290.61 L1170.73 1285.52 L1170.96 1280.42 L1171.2 1275.32 L1171.45 1270.23 L1171.73 1265.13 L1172.01 1260.03 L1172.3 1254.94 L1172.63 1249.84 L1173.03 1244.74 L1173.56 1239.65 L1174.17 1234.55 L1174.79 1229.45 L1175.33 1224.36 L1175.78 1220.49 L1176.17 1216.62 L1176.57 1212.76 L1176.89 1208.89 L1178.57 1208.89 L1178.89 1212.76 L1179.29 1216.62 L1179.68 1220.49 L1180.13 1224.36 L1180.67 1229.45 L1181.29 1234.55 L1181.9 1239.65 L1182.43 1244.74 L1182.83 1249.84 L1183.16 1254.94 L1183.45 1260.03 L1183.73 1265.13 L1184.01 1270.23 L1184.26 1275.32 L1184.5 1280.42 L1184.73 1285.52 L1184.96 1290.61 L1185.19 1295.71 L1185.39 1300.81 L1185.53 1305.9 L1185.53 1311 L1185.53 1316.1 L1185.53 1321.19 L1185.53 1326.29 L1185.47 1331.39 L1185.39 1336.48 L1185.3 1341.58 L1185.23 1346.68 L1185.21 1351.77 L1185.22 1356.87 L1185.21 1361.97 L1185.13 1367.07 L1184.95 1370.4 L1184.7 1373.74 L1184.42 1377.08 L1184.13 1380.42 L1183.82 1383.23 L1183.49 1386.05 L1183.15 1388.86 L1182.83 1391.67 L1182.52 1393.43 L1182.2 1395.18 L1181.92 1396.94 L1181.73 1398.7 Z" fill="#56B4E9" fill-opacity="0.5" stroke="#56B4E9" stroke-width="6.3" stroke-linejoin="round" stroke-linecap="round"/>
<path d="M1263.55 1433.85 L1263.45 1427.35 L1263.32 1420.84 L1263.13 1414.34 L1262.85 1407.84 L1262.48 1405.03 L1262.1 1402.21 L1261.72 1399.4 L1261.29 1396.59 L1260.78 1394.31 L1260.2 1392.02 L1259.59 1389.74 L1258.99 1387.45 L1258.38 1384.99 L1257.75 1382.53 L1257.16 1380.07 L1256.69 1377.61 L1256.34 1374.97 L1256.08 1372.34 L1255.92 1369.7 L1255.89 1367.07 L1256.02 1363.55 L1256.29 1360.04 L1256.64 1356.52 L1256.99 1353.01 L1257.35 1349.67 L1257.75 1346.33 L1258.16 1342.99 L1258.59 1339.65 L1259.03 1336.31 L1259.48 1332.97 L1259.94 1329.63 L1260.39 1326.29 L1260.84 1321.19 L1261.29 1316.1 L1261.72 1311 L1262.09 1305.9 L1262.46 1300.81 L1262.84 1295.71 L1263.16 1290.61 L1263.41 1285.52 L1263.57 1275.15 L1263.64 1264.78 L1263.65 1254.41 L1263.69 1244.04 L1263.69 1244.04 L1263.73 1254.41 L1263.74 1264.78 L1263.81 1275.15 L1263.97 1285.52 L1264.22 1290.61 L1264.54 1295.71 L1264.92 1300.81 L1265.29 1305.9 L1265.66 1311 L1266.09 1316.1 L1266.54 1321.19 L1266.99 1326.29 L1267.44 1329.63 L1267.9 1332.97 L1268.35 1336.31 L1268.79 1339.65 L1269.22 1342.99 L1269.63 1346.33 L1270.03 1349.67 L1270.39 1353.01 L1270.74 1356.52 L1271.09 1360.04 L1271.36 1363.55 L1271.49 1367.07 L1271.46 1369.7 L1271.3 1372.34 L1271.04 1374.97 L1270.69 1377.61 L1270.22 1380.07 L1269.63 1382.53 L1269 1384.99 L1268.39 1387.45 L1267.79 1389.74 L1267.18 1392.02 L1266.6 1394.31 L1266.09 1396.59 L1265.66 1399.4 L1265.28 1402.21 L1264.9 1405.03 L1264.53 1407.84 L1264.25 1414.34 L1264.06 1420.84 L1263.93 1427.35 L1263.83 1433.85 Z" fill="#E69F00" fill-opacity="0.5" stroke="#E69F00" stroke-width="6.3" stroke-linejoin="round" stroke-linecap="round"/>
<path d="M1281.97 1433.85 L1281.86 1430.69 L1281.71 1427.52 L1281.51 1424.36 L1281.27 1421.2 L1280.98 1417.86 L1280.66 1414.52 L1280.39 1411.18 L1280.11 1407.84 L1279.8 1402.74 L1279.46 1397.65 L1279.12 1392.55 L1278.81 1387.45 L1278.53 1382.36 L1278.28 1377.26 L1278.04 1372.16 L1277.81 1367.07 L1277.59 1361.97 L1277.38 1356.87 L1277.18 1351.77 L1277.01 1346.68 L1276.87 1341.58 L1276.76 1336.48 L1276.65 1331.39 L1276.51 1326.29 L1276.33 1321.19 L1276.12 1316.1 L1275.9 1311 L1275.71 1305.9 L1275.54 1302.39 L1275.39 1298.87 L1275.25 1295.36 L1275.11 1291.84 L1274.95 1288.5 L1274.79 1285.17 L1274.66 1281.83 L1274.61 1278.49 L1274.65 1275.15 L1274.77 1271.81 L1274.93 1268.47 L1275.11 1265.13 L1275.32 1261.62 L1275.56 1258.1 L1275.83 1254.59 L1276.11 1251.07 L1276.4 1247.73 L1276.69 1244.39 L1277.02 1241.05 L1277.41 1237.71 L1277.89 1234.37 L1278.44 1231.03 L1279 1227.7 L1279.51 1224.36 L1279.98 1220.49 L1280.44 1216.62 L1280.88 1212.76 L1281.27 1208.89 L1282.95 1208.89 L1283.34 1212.76 L1283.78 1216.62 L1284.24 1220.49 L1284.71 1224.36 L1285.22 1227.7 L1285.78 1231.03 L1286.33 1234.37 L1286.81 1237.71 L1287.2 1241.05 L1287.53 1244.39 L1287.82 1247.73 L1288.11 1251.07 L1288.39 1254.59 L1288.66 1258.1 L1288.9 1261.62 L1289.11 1265.13 L1289.29 1268.47 L1289.45 1271.81 L1289.57 1275.15 L1289.61 1278.49 L1289.56 1281.83 L1289.43 1285.17 L1289.27 1288.5 L1289.11 1291.84 L1288.97 1295.36 L1288.83 1298.87 L1288.68 1302.39 L1288.51 1305.9 L1288.32 1311 L1288.1 1316.1 L1287.89 1321.19 L1287.71 1326.29 L1287.57 1331.39 L1287.46 1336.48 L1287.35 1341.58 L1287.21 1346.68 L1287.04 1351.77 L1286.84 1356.87 L1286.63 1361.97 L1286.41 1367.07 L1286.18 1372.16 L1285.94 1377.26 L1285.69 1382.36 L1285.41 1387.45 L1285.1 1392.55 L1284.76 1397.65 L1284.42 1402.74 L1284.11 1407.84 L1283.83 1411.18 L1283.56 1414.52 L1283.24 1417.86 L1282.95 1421.2 L1282.71 1424.36 L1282.51 1427.52 L1282.36 1430.69 L1282.25 1433.85 Z" fill="#56B4E9" fill-opacity="0.5" stroke="#56B4E9" stroke-width="6.3" stroke-linejoin="round" stroke-linecap="round"/>
<rect x="1150.52" y="1346.79" width="20.6" height="5.4" rx="1.2" fill="#E69F00"/>
<rect x="1165.92" y="1318.67" width="20.6" height="5.4" rx="1.2" fill="#56B4E9"/>
<rect x="1254.9" y="1357.34" width="20.6" height="5.4" rx="1.2" fill="#E69F00"/>
<rect x="1270.3" y="1301.1" width="20.6" height="5.4" rx="1.2" fill="#56B4E9"/>
<rect x="1153.12" y="1342.64" width="15.4" height="13.7" fill="#E69F00"/>
<rect x="1168.52" y="1314.52" width="15.4" height="13.7" fill="#56B4E9"/>
<rect x="1257.5" y="1353.19" width="15.4" height="13.7" fill="#E69F00"/>
<rect x="1272.9" y="1296.95" width="15.4" height="13.7" fill="#56B4E9"/>
<text x="1169.22" y="1122.9" font-size="21.5" letter-spacing="1.35" fill="#000" text-anchor="middle">***</text>
<text x="1273.6" y="1122.9" font-size="21.5" letter-spacing="1.35" fill="#000" text-anchor="middle">***</text>
</g><g>
<rect x="927.8" y="1110.9" width="212.7" height="147.2" fill="#fff" stroke="#000" stroke-width="2.7"/>
<text x="940.7" y="1145.7" font-size="26.4" font-weight="bold" fill="#000">Treatment</text>
<rect x="937.4" y="1163.5" width="37" height="36.6" fill="#f2cf7f"/>
<rect x="937.4" y="1204.2" width="37" height="36.6" fill="#aadaf4"/>
<text x="984.2" y="1189.2" font-size="25.8" fill="#000">CONTROL</text>
<text x="984.2" y="1229.9" font-size="25.8" fill="#000">IRRIGATION</text>
</g>
<rect x="918.3" y="1102.6" width="402.3" height="353.8" fill="none" stroke="#333333" stroke-width="2.6"/>
<line x1="996.6" x2="996.6" y1="1457.5" y2="1464.3" stroke="#333333" stroke-width="5.3"/>
<text x="963.1" y="1489.2" font-size="26.2" fill="#4d4d4d">Jun 30</text>
<line x1="1119.4" x2="1119.4" y1="1457.5" y2="1464.3" stroke="#333333" stroke-width="5.3"/>
<text x="1085.6" y="1489.2" font-size="26.2" fill="#4d4d4d">Jul 20</text>
<line x1="1242.2" x2="1242.2" y1="1457.5" y2="1464.3" stroke="#333333" stroke-width="5.3"/>
<text x="1208.3" y="1489.2" font-size="26.2" fill="#4d4d4d">Aug 09</text>
<text x="74.3" y="1536.6" font-size="36.48" fill="#000"><tspan font-weight="bold" font-size="31">(d)</tspan><tspan dx="-0.7"> Development of Water Table over summer season</tspan></text>
<text transform="translate(22.7,1992.4) rotate(-90)" font-size="31.2" fill="#000">Water Table above Permafrost [cm]</text>
<rect x="75.2" y="1562.9" width="404.6" height="41.5" fill="#333333"/>
<rect x="77.8" y="1565.5" width="399.4" height="35" fill="#d9d9d9"/>
<text x="277.5" y="1590.1" font-size="21" fill="#1a1a1a" text-anchor="middle">2018</text>
<rect x="76.5" y="1604.4" width="402" height="352.9" fill="#fff"/>
<clipPath id="c10"><rect x="76.5" y="1604.4" width="402" height="352.9"/></clipPath>
<g clip-path="url(#c10)">
<line x1="76.5" x2="478.5" y1="1895.3" y2="1895.3" stroke="#ebebeb" stroke-width="2.6"/>
<line x1="76.5" x2="478.5" y1="1800.1" y2="1800.1" stroke="#ebebeb" stroke-width="2.6"/>
<line x1="76.5" x2="478.5" y1="1704.9" y2="1704.9" stroke="#ebebeb" stroke-width="2.6"/>
<line x1="76.5" x2="478.5" y1="1609.7" y2="1609.7" stroke="#ebebeb" stroke-width="2.6"/>
<line x1="93.7" x2="93.7" y1="1604.4" y2="1957.3" stroke="#ebebeb" stroke-width="2.6"/>
<line x1="216.1" x2="216.1" y1="1604.4" y2="1957.3" stroke="#ebebeb" stroke-width="2.6"/>
<line x1="338.5" x2="338.5" y1="1604.4" y2="1957.3" stroke="#ebebeb" stroke-width="2.6"/>
<line x1="460.9" x2="460.9" y1="1604.4" y2="1957.3" stroke="#ebebeb" stroke-width="2.6"/>
<line x1="76.5" x2="478.5" y1="1942.9" y2="1942.9" stroke="#ebebeb" stroke-width="5.2"/>
<line x1="76.5" x2="478.5" y1="1847.7" y2="1847.7" stroke="#ebebeb" stroke-width="5.2"/>
<line x1="76.5" x2="478.5" y1="1752.5" y2="1752.5" stroke="#ebebeb" stroke-width="5.2"/>
<line x1="76.5" x2="478.5" y1="1657.3" y2="1657.3" stroke="#ebebeb" stroke-width="5.2"/>
<line x1="154.9" x2="154.9" y1="1604.4" y2="1957.3" stroke="#ebebeb" stroke-width="5.2"/>
<line x1="277.3" x2="277.3" y1="1604.4" y2="1957.3" stroke="#ebebeb" stroke-width="5.2"/>
<line x1="399.7" x2="399.7" y1="1604.4" y2="1957.3" stroke="#ebebeb" stroke-width="5.2"/>
<path d="M162.4 1942.9 L162.4 1942.9 L178 1942.9 L178 1942.9 Z" fill="#E69F00" fill-opacity="0.5" stroke="#E69F00" stroke-width="6.3" stroke-linejoin="round" stroke-linecap="round"/>
<path d="M180.76 1942.9 L180.76 1942.9 L196.36 1942.9 L196.36 1942.9 Z" fill="#56B4E9" fill-opacity="0.5" stroke="#56B4E9" stroke-width="6.3" stroke-linejoin="round" stroke-linecap="round"/>
<path d="M297.04 1942.9 L297.04 1942.9 L312.64 1942.9 L312.64 1942.9 Z" fill="#E69F00" fill-opacity="0.5" stroke="#E69F00" stroke-width="6.3" stroke-linejoin="round" stroke-linecap="round"/>
<path d="M321.8 1923.86 L321.71 1921 L321.57 1918.15 L321.41 1915.29 L321.2 1912.44 L320.95 1909.58 L320.66 1906.72 L320.34 1903.87 L320 1901.01 L319.64 1898.16 L319.25 1895.3 L318.86 1892.44 L318.5 1889.59 L318.17 1886.26 L317.85 1882.92 L317.56 1879.59 L317.3 1876.26 L317.09 1873.4 L316.93 1870.55 L316.78 1867.69 L316.6 1864.84 L316.36 1861.74 L316.08 1858.65 L315.84 1855.55 L315.7 1852.46 L315.68 1849.37 L315.74 1846.27 L315.88 1843.18 L316.1 1840.08 L316.47 1837.23 L316.97 1834.37 L317.46 1831.52 L317.8 1828.66 L328.6 1828.66 L328.94 1831.52 L329.43 1834.37 L329.93 1837.23 L330.3 1840.08 L330.52 1843.18 L330.66 1846.27 L330.72 1849.37 L330.7 1852.46 L330.56 1855.55 L330.32 1858.65 L330.04 1861.74 L329.8 1864.84 L329.62 1867.69 L329.47 1870.55 L329.31 1873.4 L329.1 1876.26 L328.84 1879.59 L328.55 1882.92 L328.23 1886.26 L327.9 1889.59 L327.54 1892.44 L327.15 1895.3 L326.76 1898.16 L326.4 1901.01 L326.06 1903.87 L325.74 1906.72 L325.45 1909.58 L325.2 1912.44 L324.99 1915.29 L324.82 1918.15 L324.69 1921 L324.6 1923.86 Z" fill="#56B4E9" fill-opacity="0.5" stroke="#56B4E9" stroke-width="6.3" stroke-linejoin="round" stroke-linecap="round"/>
<path d="M358.24 1942.9 L358.24 1942.9 L373.84 1942.9 L373.84 1942.9 Z" fill="#E69F00" fill-opacity="0.5" stroke="#E69F00" stroke-width="6.3" stroke-linejoin="round" stroke-linecap="round"/>
<path d="M381.5 1885.78 L381.49 1883.4 L381.48 1881.02 L381.46 1878.64 L381.4 1876.26 L381.31 1871.98 L381.19 1867.69 L381.05 1863.41 L380.9 1859.12 L380.74 1854.36 L380.58 1849.6 L380.39 1844.84 L380.2 1840.08 L379.99 1835.8 L379.76 1831.52 L379.52 1827.23 L379.3 1822.95 L379.1 1818.19 L378.91 1813.43 L378.71 1808.67 L378.5 1803.91 L378.25 1799.39 L377.99 1794.86 L377.73 1790.34 L377.5 1785.82 L377.31 1781.3 L377.14 1776.78 L377.01 1772.25 L376.9 1767.73 L376.82 1762.97 L376.79 1758.21 L376.79 1753.45 L376.8 1748.69 L376.88 1744.41 L377.01 1740.12 L377.2 1735.84 L377.5 1731.56 L378 1727.27 L378.64 1722.99 L379.27 1718.7 L379.7 1714.42 L389.1 1714.42 L389.53 1718.7 L390.16 1722.99 L390.8 1727.27 L391.3 1731.56 L391.6 1735.84 L391.79 1740.12 L391.92 1744.41 L392 1748.69 L392.01 1753.45 L392.01 1758.21 L391.98 1762.97 L391.9 1767.73 L391.79 1772.25 L391.66 1776.78 L391.49 1781.3 L391.3 1785.82 L391.07 1790.34 L390.81 1794.86 L390.55 1799.39 L390.3 1803.91 L390.09 1808.67 L389.89 1813.43 L389.7 1818.19 L389.5 1822.95 L389.28 1827.23 L389.04 1831.52 L388.81 1835.8 L388.6 1840.08 L388.41 1844.84 L388.23 1849.6 L388.06 1854.36 L387.9 1859.12 L387.75 1863.41 L387.61 1867.69 L387.49 1871.98 L387.4 1876.26 L387.34 1878.64 L387.32 1881.02 L387.31 1883.4 L387.3 1885.78 Z" fill="#56B4E9" fill-opacity="0.5" stroke="#56B4E9" stroke-width="6.3" stroke-linejoin="round" stroke-linecap="round"/>
<rect x="161.38" y="1940.2" width="20.6" height="5.4" rx="1.2" fill="#E69F00"/>
<rect x="176.78" y="1940.2" width="20.6" height="5.4" rx="1.2" fill="#56B4E9"/>
<rect x="296.02" y="1940.2" width="20.6" height="5.4" rx="1.2" fill="#E69F00"/>
<rect x="311.42" y="1854.52" width="20.6" height="5.4" rx="1.2" fill="#56B4E9"/>
<rect x="357.22" y="1940.2" width="20.6" height="5.4" rx="1.2" fill="#E69F00"/>
<rect x="372.62" y="1778.36" width="20.6" height="5.4" rx="1.2" fill="#56B4E9"/>
<rect x="163.98" y="1936.05" width="15.4" height="13.7" fill="#E69F00"/>
<rect x="179.38" y="1936.05" width="15.4" height="13.7" fill="#56B4E9"/>
<rect x="298.62" y="1936.05" width="15.4" height="13.7" fill="#E69F00"/>
<rect x="314.02" y="1850.37" width="15.4" height="13.7" fill="#56B4E9"/>
<rect x="359.82" y="1936.05" width="15.4" height="13.7" fill="#E69F00"/>
<rect x="375.22" y="1774.21" width="15.4" height="13.7" fill="#56B4E9"/>
<text x="314.02" y="1628.6" font-size="24.5" fill="#000" text-anchor="middle">PS</text>
<text x="375.22" y="1628.6" font-size="24.5" fill="#000" text-anchor="middle">PS</text>
</g><g>
</g>
<rect x="76.5" y="1604.4" width="402" height="352.9" fill="none" stroke="#333333" stroke-width="2.6"/>
<line x1="154.9" x2="154.9" y1="1958.4" y2="1965.2" stroke="#333333" stroke-width="5.3"/>
<text x="125.4" y="1990.1" font-size="26.2" fill="#4d4d4d">Jun 30</text>
<line x1="277.3" x2="277.3" y1="1958.4" y2="1965.2" stroke="#333333" stroke-width="5.3"/>
<text x="247.9" y="1990.1" font-size="26.2" fill="#4d4d4d">Jul 20</text>
<line x1="399.7" x2="399.7" y1="1958.4" y2="1965.2" stroke="#333333" stroke-width="5.3"/>
<text x="370.3" y="1990.1" font-size="26.2" fill="#4d4d4d">Aug 09</text>
<line x1="68.6" x2="75.4" y1="1942.9" y2="1942.9" stroke="#333333" stroke-width="5.3"/>
<text x="61.5" y="1950.4" font-size="26.2" fill="#4d4d4d" text-anchor="end">0</text>
<line x1="68.6" x2="75.4" y1="1847.7" y2="1847.7" stroke="#333333" stroke-width="5.3"/>
<text x="61.5" y="1855.2" font-size="26.2" fill="#4d4d4d" text-anchor="end">5</text>
<line x1="68.6" x2="75.4" y1="1752.5" y2="1752.5" stroke="#333333" stroke-width="5.3"/>
<text x="63.8" y="1760" font-size="26.2" fill="#4d4d4d" text-anchor="end">10</text>
<line x1="68.6" x2="75.4" y1="1657.3" y2="1657.3" stroke="#333333" stroke-width="5.3"/>
<text x="63.8" y="1664.8" font-size="26.2" fill="#4d4d4d" text-anchor="end">15</text>
<rect x="492.5" y="1562.9" width="404.8" height="41.5" fill="#333333"/>
<rect x="495.1" y="1565.5" width="399.6" height="35" fill="#d9d9d9"/>
<text x="694.9" y="1590.1" font-size="21" fill="#1a1a1a" text-anchor="middle">2019</text>
<rect x="493.8" y="1604.4" width="402.2" height="352.9" fill="#fff"/>
<clipPath id="c11"><rect x="493.8" y="1604.4" width="402.2" height="352.9"/></clipPath>
<g clip-path="url(#c11)">
<line x1="493.8" x2="896" y1="1895.3" y2="1895.3" stroke="#ebebeb" stroke-width="2.6"/>
<line x1="493.8" x2="896" y1="1800.1" y2="1800.1" stroke="#ebebeb" stroke-width="2.6"/>
<line x1="493.8" x2="896" y1="1704.9" y2="1704.9" stroke="#ebebeb" stroke-width="2.6"/>
<line x1="493.8" x2="896" y1="1609.7" y2="1609.7" stroke="#ebebeb" stroke-width="2.6"/>
<line x1="511.2" x2="511.2" y1="1604.4" y2="1957.3" stroke="#ebebeb" stroke-width="2.6"/>
<line x1="633.6" x2="633.6" y1="1604.4" y2="1957.3" stroke="#ebebeb" stroke-width="2.6"/>
<line x1="756" x2="756" y1="1604.4" y2="1957.3" stroke="#ebebeb" stroke-width="2.6"/>
<line x1="878.4" x2="878.4" y1="1604.4" y2="1957.3" stroke="#ebebeb" stroke-width="2.6"/>
<line x1="493.8" x2="896" y1="1942.9" y2="1942.9" stroke="#ebebeb" stroke-width="5.2"/>
<line x1="493.8" x2="896" y1="1847.7" y2="1847.7" stroke="#ebebeb" stroke-width="5.2"/>
<line x1="493.8" x2="896" y1="1752.5" y2="1752.5" stroke="#ebebeb" stroke-width="5.2"/>
<line x1="493.8" x2="896" y1="1657.3" y2="1657.3" stroke="#ebebeb" stroke-width="5.2"/>
<line x1="572.4" x2="572.4" y1="1604.4" y2="1957.3" stroke="#ebebeb" stroke-width="5.2"/>
<line x1="694.8" x2="694.8" y1="1604.4" y2="1957.3" stroke="#ebebeb" stroke-width="5.2"/>
<line x1="817.2" x2="817.2" y1="1604.4" y2="1957.3" stroke="#ebebeb" stroke-width="5.2"/>
<path d="M555.42 1942.9 L555.42 1942.9 L571.02 1942.9 L571.02 1942.9 Z" fill="#E69F00" fill-opacity="0.5" stroke="#E69F00" stroke-width="6.3" stroke-linejoin="round" stroke-linecap="round"/>
<path d="M574.08 1942.9 L574.26 1941.95 L574.52 1941 L574.84 1940.04 L575.18 1939.09 L575.56 1938.19 L575.99 1937.28 L576.44 1936.38 L576.88 1935.47 L577.3 1934.62 L577.73 1933.76 L578.15 1932.9 L578.58 1932.05 L579.03 1931.19 L579.49 1930.33 L579.93 1929.48 L580.32 1928.62 L580.68 1927.67 L580.95 1926.72 L581.15 1925.76 L581.3 1924.81 L581.4 1919.81 L581.43 1914.82 L581.43 1909.82 L581.44 1904.82 L581.72 1904.82 L581.73 1909.82 L581.73 1914.82 L581.76 1919.81 L581.86 1924.81 L582.01 1925.76 L582.21 1926.72 L582.48 1927.67 L582.84 1928.62 L583.23 1929.48 L583.67 1930.33 L584.13 1931.19 L584.58 1932.05 L585 1932.9 L585.43 1933.76 L585.85 1934.62 L586.28 1935.47 L586.72 1936.38 L587.17 1937.28 L587.6 1938.19 L587.98 1939.09 L588.32 1940.04 L588.64 1941 L588.9 1941.95 L589.08 1942.9 Z" fill="#56B4E9" fill-opacity="0.5" stroke="#56B4E9" stroke-width="6.3" stroke-linejoin="round" stroke-linecap="round"/>
<path d="M696.48 1942.9 L696.71 1942.23 L697.04 1941.57 L697.46 1940.9 L697.98 1940.23 L698.64 1939.38 L699.44 1938.52 L700.25 1937.66 L700.98 1936.81 L701.63 1935.95 L702.25 1935.09 L702.86 1934.24 L703.42 1933.38 L703.74 1932.43 L703.88 1931.48 L703.91 1930.52 L703.91 1929.57 L703.87 1928.14 L703.77 1926.72 L703.64 1925.29 L703.56 1923.86 L704.4 1923.86 L704.32 1925.29 L704.19 1926.72 L704.09 1928.14 L704.05 1929.57 L704.05 1930.52 L704.08 1931.48 L704.22 1932.43 L704.54 1933.38 L705.1 1934.24 L705.71 1935.09 L706.33 1935.95 L706.98 1936.81 L707.71 1937.66 L708.52 1938.52 L709.32 1939.38 L709.98 1940.23 L710.5 1940.9 L710.92 1941.57 L711.25 1942.23 L711.48 1942.9 Z" fill="#E69F00" fill-opacity="0.5" stroke="#E69F00" stroke-width="6.3" stroke-linejoin="round" stroke-linecap="round"/>
<path d="M716.54 1942.9 L716.38 1938.14 L716.14 1933.38 L715.88 1928.62 L715.64 1923.86 L715.41 1919.1 L715.18 1914.34 L714.98 1909.58 L714.84 1904.82 L729.84 1904.82 L729.7 1909.58 L729.5 1914.34 L729.27 1919.1 L729.04 1923.86 L728.8 1928.62 L728.54 1933.38 L728.3 1938.14 L728.14 1942.9 Z" fill="#56B4E9" fill-opacity="0.5" stroke="#56B4E9" stroke-width="6.3" stroke-linejoin="round" stroke-linecap="round"/>
<path d="M794.2 1942.9 L794.4 1942.23 L794.68 1941.57 L795.05 1940.9 L795.5 1940.23 L796.07 1939.38 L796.74 1938.52 L797.47 1937.66 L798.2 1936.81 L798.99 1935.95 L799.85 1935.09 L800.69 1934.24 L801.48 1933.38 L801.86 1932.19 L801.86 1931 L801.86 1929.81 L801.83 1928.62 L801.76 1927.43 L801.61 1926.24 L801.45 1925.05 L801.34 1923.86 L802.46 1923.86 L802.35 1925.05 L802.19 1926.24 L802.04 1927.43 L801.97 1928.62 L801.94 1929.81 L801.94 1931 L801.94 1932.19 L802.32 1933.38 L803.11 1934.24 L803.95 1935.09 L804.81 1935.95 L805.6 1936.81 L806.33 1937.66 L807.06 1938.52 L807.73 1939.38 L808.3 1940.23 L808.75 1940.9 L809.12 1941.57 L809.4 1942.23 L809.6 1942.9 Z" fill="#E69F00" fill-opacity="0.5" stroke="#E69F00" stroke-width="6.3" stroke-linejoin="round" stroke-linecap="round"/>
<path d="M812.56 1942.9 L812.87 1942.19 L813.32 1941.47 L813.83 1940.76 L814.36 1940.04 L814.93 1939.09 L815.57 1938.14 L816.18 1937.19 L816.66 1936.24 L817 1935.52 L817.24 1934.81 L817.39 1934.09 L817.46 1933.38 L817.43 1932.43 L817.3 1931.48 L817.1 1930.52 L816.86 1929.57 L816.54 1928.62 L816.14 1927.67 L815.75 1926.72 L815.46 1925.76 L815.29 1925.29 L815.2 1924.81 L815.15 1924.34 L815.11 1923.86 L825.41 1923.86 L825.37 1924.34 L825.32 1924.81 L825.23 1925.29 L825.06 1925.76 L824.77 1926.72 L824.38 1927.67 L823.98 1928.62 L823.66 1929.57 L823.42 1930.52 L823.22 1931.48 L823.09 1932.43 L823.06 1933.38 L823.13 1934.09 L823.28 1934.81 L823.52 1935.52 L823.86 1936.24 L824.34 1937.19 L824.95 1938.14 L825.58 1939.09 L826.16 1940.04 L826.69 1940.76 L827.2 1941.47 L827.65 1942.19 L827.96 1942.9 Z" fill="#56B4E9" fill-opacity="0.5" stroke="#56B4E9" stroke-width="6.3" stroke-linejoin="round" stroke-linecap="round"/>
<rect x="554.4" y="1940.2" width="20.6" height="5.4" rx="1.2" fill="#E69F00"/>
<rect x="569.8" y="1940.2" width="20.6" height="5.4" rx="1.2" fill="#56B4E9"/>
<rect x="695.16" y="1940.2" width="20.6" height="5.4" rx="1.2" fill="#E69F00"/>
<rect x="710.56" y="1921.16" width="20.6" height="5.4" rx="1.2" fill="#56B4E9"/>
<rect x="793.08" y="1940.2" width="20.6" height="5.4" rx="1.2" fill="#E69F00"/>
<rect x="808.48" y="1940.2" width="20.6" height="5.4" rx="1.2" fill="#56B4E9"/>
<rect x="557" y="1936.05" width="15.4" height="13.7" fill="#E69F00"/>
<rect x="572.4" y="1936.05" width="15.4" height="13.7" fill="#56B4E9"/>
<rect x="697.76" y="1936.05" width="15.4" height="13.7" fill="#E69F00"/>
<rect x="713.16" y="1917.01" width="15.4" height="13.7" fill="#56B4E9"/>
<rect x="795.68" y="1936.05" width="15.4" height="13.7" fill="#E69F00"/>
<rect x="811.08" y="1936.05" width="15.4" height="13.7" fill="#56B4E9"/>
<text x="713.86" y="1624.9" font-size="21.5" letter-spacing="1.35" fill="#000" text-anchor="middle">***</text>
</g><g>
</g>
<rect x="493.8" y="1604.4" width="402.2" height="352.9" fill="none" stroke="#333333" stroke-width="2.6"/>
<line x1="572.4" x2="572.4" y1="1958.4" y2="1965.2" stroke="#333333" stroke-width="5.3"/>
<text x="541.9" y="1990.1" font-size="26.2" fill="#4d4d4d">Jun 30</text>
<line x1="694.8" x2="694.8" y1="1958.4" y2="1965.2" stroke="#333333" stroke-width="5.3"/>
<text x="664.3" y="1990.1" font-size="26.2" fill="#4d4d4d">Jul 20</text>
<line x1="817.2" x2="817.2" y1="1958.4" y2="1965.2" stroke="#333333" stroke-width="5.3"/>
<text x="786.8" y="1990.1" font-size="26.2" fill="#4d4d4d">Aug 09</text>
<rect x="909.9" y="1562.9" width="404.8" height="41.5" fill="#333333"/>
<rect x="912.5" y="1565.5" width="399.6" height="35" fill="#d9d9d9"/>
<text x="1112.3" y="1590.1" font-size="21" fill="#1a1a1a" text-anchor="middle">2020</text>
<rect x="911.2" y="1604.4" width="402.2" height="352.9" fill="#fff"/>
<clipPath id="c12"><rect x="911.2" y="1604.4" width="402.2" height="352.9"/></clipPath>
<g clip-path="url(#c12)">
<line x1="911.2" x2="1313.4" y1="1895.3" y2="1895.3" stroke="#ebebeb" stroke-width="2.6"/>
<line x1="911.2" x2="1313.4" y1="1800.1" y2="1800.1" stroke="#ebebeb" stroke-width="2.6"/>
<line x1="911.2" x2="1313.4" y1="1704.9" y2="1704.9" stroke="#ebebeb" stroke-width="2.6"/>
<line x1="911.2" x2="1313.4" y1="1609.7" y2="1609.7" stroke="#ebebeb" stroke-width="2.6"/>
<line x1="928.6" x2="928.6" y1="1604.4" y2="1957.3" stroke="#ebebeb" stroke-width="2.6"/>
<line x1="1051" x2="1051" y1="1604.4" y2="1957.3" stroke="#ebebeb" stroke-width="2.6"/>
<line x1="1173.4" x2="1173.4" y1="1604.4" y2="1957.3" stroke="#ebebeb" stroke-width="2.6"/>
<line x1="1295.8" x2="1295.8" y1="1604.4" y2="1957.3" stroke="#ebebeb" stroke-width="2.6"/>
<line x1="911.2" x2="1313.4" y1="1942.9" y2="1942.9" stroke="#ebebeb" stroke-width="5.2"/>
<line x1="911.2" x2="1313.4" y1="1847.7" y2="1847.7" stroke="#ebebeb" stroke-width="5.2"/>
<line x1="911.2" x2="1313.4" y1="1752.5" y2="1752.5" stroke="#ebebeb" stroke-width="5.2"/>
<line x1="911.2" x2="1313.4" y1="1657.3" y2="1657.3" stroke="#ebebeb" stroke-width="5.2"/>
<line x1="989.8" x2="989.8" y1="1604.4" y2="1957.3" stroke="#ebebeb" stroke-width="5.2"/>
<line x1="1112.2" x2="1112.2" y1="1604.4" y2="1957.3" stroke="#ebebeb" stroke-width="5.2"/>
<line x1="1234.6" x2="1234.6" y1="1604.4" y2="1957.3" stroke="#ebebeb" stroke-width="5.2"/>
<path d="M1145.88 1942.9 L1145.67 1938.85 L1145.37 1934.81 L1145.05 1930.76 L1144.78 1926.72 L1144.55 1923.15 L1144.34 1919.58 L1144.17 1916.01 L1144.08 1912.44 L1144.09 1908.82 L1144.17 1905.2 L1144.31 1901.58 L1144.48 1897.97 L1144.68 1894.44 L1144.92 1890.92 L1145.19 1887.4 L1145.48 1883.88 L1145.81 1880.07 L1146.18 1876.26 L1146.55 1872.45 L1146.88 1868.64 L1147.16 1865.31 L1147.41 1861.98 L1147.65 1858.65 L1147.88 1855.32 L1148.11 1851.51 L1148.33 1847.7 L1148.55 1843.89 L1148.78 1840.08 L1149.03 1836.75 L1149.29 1833.42 L1149.55 1830.09 L1149.78 1826.76 L1149.98 1822.95 L1150.15 1819.14 L1150.32 1815.33 L1150.48 1811.52 L1150.67 1807.95 L1150.89 1804.38 L1151.1 1800.81 L1151.28 1797.24 L1151.42 1793.67 L1151.53 1790.1 L1151.62 1786.53 L1151.7 1782.96 L1151.76 1775.35 L1151.8 1767.73 L1151.82 1760.12 L1151.84 1752.5 L1152.12 1752.5 L1152.14 1760.12 L1152.16 1767.73 L1152.2 1775.35 L1152.26 1782.96 L1152.34 1786.53 L1152.43 1790.1 L1152.54 1793.67 L1152.68 1797.24 L1152.86 1800.81 L1153.06 1804.38 L1153.29 1807.95 L1153.48 1811.52 L1153.64 1815.33 L1153.8 1819.14 L1153.98 1822.95 L1154.18 1826.76 L1154.41 1830.09 L1154.67 1833.42 L1154.93 1836.75 L1155.18 1840.08 L1155.41 1843.89 L1155.63 1847.7 L1155.85 1851.51 L1156.08 1855.32 L1156.31 1858.65 L1156.55 1861.98 L1156.8 1865.31 L1157.08 1868.64 L1157.41 1872.45 L1157.78 1876.26 L1158.15 1880.07 L1158.48 1883.88 L1158.77 1887.4 L1159.04 1890.92 L1159.28 1894.44 L1159.48 1897.97 L1159.65 1901.58 L1159.79 1905.2 L1159.87 1908.82 L1159.88 1912.44 L1159.79 1916.01 L1159.62 1919.58 L1159.41 1923.15 L1159.18 1926.72 L1158.91 1930.76 L1158.59 1934.81 L1158.29 1938.85 L1158.08 1942.9 Z" fill="#E69F00" fill-opacity="0.5" stroke="#E69F00" stroke-width="6.3" stroke-linejoin="round" stroke-linecap="round"/>
<path d="M1164.84 1942.9 L1164.65 1938.85 L1164.37 1934.81 L1164.08 1930.76 L1163.84 1926.72 L1163.66 1923.15 L1163.51 1919.58 L1163.4 1916.01 L1163.34 1912.44 L1163.35 1907.2 L1163.42 1901.96 L1163.53 1896.73 L1163.64 1891.49 L1163.76 1885.78 L1163.9 1880.07 L1164.05 1874.36 L1164.24 1868.64 L1164.46 1861.5 L1164.71 1854.36 L1164.98 1847.22 L1165.24 1840.08 L1165.49 1832.94 L1165.75 1825.8 L1166 1818.66 L1166.24 1811.52 L1166.49 1804.38 L1166.73 1797.24 L1166.96 1790.1 L1167.14 1782.96 L1167.26 1772.02 L1167.34 1761.07 L1167.39 1750.12 L1167.44 1739.17 L1167.45 1724.89 L1167.43 1710.61 L1167.44 1696.33 L1167.54 1682.05 L1167.79 1671.1 L1168.15 1660.16 L1168.5 1649.21 L1168.74 1638.26 L1171.94 1638.26 L1172.18 1649.21 L1172.53 1660.16 L1172.89 1671.1 L1173.14 1682.05 L1173.24 1696.33 L1173.25 1710.61 L1173.23 1724.89 L1173.24 1739.17 L1173.29 1750.12 L1173.34 1761.07 L1173.42 1772.02 L1173.54 1782.96 L1173.72 1790.1 L1173.95 1797.24 L1174.19 1804.38 L1174.44 1811.52 L1174.68 1818.66 L1174.93 1825.8 L1175.19 1832.94 L1175.44 1840.08 L1175.7 1847.22 L1175.96 1854.36 L1176.22 1861.5 L1176.44 1868.64 L1176.63 1874.36 L1176.78 1880.07 L1176.92 1885.78 L1177.04 1891.49 L1177.15 1896.73 L1177.26 1901.96 L1177.33 1907.2 L1177.34 1912.44 L1177.28 1916.01 L1177.17 1919.58 L1177.02 1923.15 L1176.84 1926.72 L1176.6 1930.76 L1176.31 1934.81 L1176.03 1938.85 L1175.84 1942.9 Z" fill="#56B4E9" fill-opacity="0.5" stroke="#56B4E9" stroke-width="6.3" stroke-linejoin="round" stroke-linecap="round"/>
<path d="M1248.62 1942.9 L1248.67 1938.85 L1248.73 1934.81 L1248.83 1930.76 L1249.02 1926.72 L1249.32 1923.15 L1249.71 1919.58 L1250.13 1916.01 L1250.52 1912.44 L1250.87 1908.82 L1251.22 1905.2 L1251.57 1901.58 L1251.92 1897.97 L1252.33 1892.54 L1252.78 1887.11 L1253.18 1881.69 L1253.42 1876.26 L1253.44 1871.02 L1253.31 1865.79 L1253.13 1860.55 L1253.02 1855.32 L1253.01 1848.65 L1253.04 1841.99 L1253.09 1835.32 L1253.12 1828.66 L1258.92 1828.66 L1258.95 1835.32 L1258.99 1841.99 L1259.03 1848.65 L1259.02 1855.32 L1258.91 1860.55 L1258.73 1865.79 L1258.6 1871.02 L1258.62 1876.26 L1258.86 1881.69 L1259.26 1887.11 L1259.71 1892.54 L1260.12 1897.97 L1260.47 1901.58 L1260.82 1905.2 L1261.17 1908.82 L1261.52 1912.44 L1261.91 1916.01 L1262.33 1919.58 L1262.72 1923.15 L1263.02 1926.72 L1263.21 1930.76 L1263.31 1934.81 L1263.37 1938.85 L1263.42 1942.9 Z" fill="#E69F00" fill-opacity="0.5" stroke="#E69F00" stroke-width="6.3" stroke-linejoin="round" stroke-linecap="round"/>
<path d="M1269.68 1942.9 L1269.42 1938.85 L1269.04 1934.81 L1268.63 1930.76 L1268.28 1926.72 L1268 1923.15 L1267.75 1919.58 L1267.54 1916.01 L1267.38 1912.44 L1267.27 1907.2 L1267.21 1901.96 L1267.19 1896.73 L1267.18 1891.49 L1267.19 1885.78 L1267.21 1880.07 L1267.27 1874.36 L1267.38 1868.64 L1267.54 1863.41 L1267.75 1858.17 L1268 1852.94 L1268.28 1847.7 L1268.59 1842.46 L1268.94 1837.23 L1269.31 1831.99 L1269.68 1826.76 L1270.06 1819.38 L1270.45 1812 L1270.84 1804.62 L1271.18 1797.24 L1271.47 1789.87 L1271.73 1782.49 L1271.96 1775.11 L1272.18 1767.73 L1272.39 1753.45 L1272.57 1739.17 L1272.74 1724.89 L1272.88 1710.61 L1272.99 1692.52 L1273.11 1674.44 L1273.2 1656.35 L1273.26 1638.26 L1275.5 1638.26 L1275.56 1656.35 L1275.65 1674.44 L1275.77 1692.52 L1275.88 1710.61 L1276.02 1724.89 L1276.19 1739.17 L1276.37 1753.45 L1276.58 1767.73 L1276.8 1775.11 L1277.03 1782.49 L1277.29 1789.87 L1277.58 1797.24 L1277.92 1804.62 L1278.3 1812 L1278.7 1819.38 L1279.08 1826.76 L1279.45 1831.99 L1279.82 1837.23 L1280.17 1842.46 L1280.48 1847.7 L1280.76 1852.94 L1281 1858.17 L1281.22 1863.41 L1281.38 1868.64 L1281.49 1874.36 L1281.55 1880.07 L1281.57 1885.78 L1281.58 1891.49 L1281.57 1896.73 L1281.55 1901.96 L1281.49 1907.2 L1281.38 1912.44 L1281.22 1916.01 L1281 1919.58 L1280.76 1923.15 L1280.48 1926.72 L1280.13 1930.76 L1279.72 1934.81 L1279.34 1938.85 L1279.08 1942.9 Z" fill="#56B4E9" fill-opacity="0.5" stroke="#56B4E9" stroke-width="6.3" stroke-linejoin="round" stroke-linecap="round"/>
<rect x="1143.16" y="1887.84" width="20.6" height="5.4" rx="1.2" fill="#E69F00"/>
<rect x="1158.56" y="1873.56" width="20.6" height="5.4" rx="1.2" fill="#56B4E9"/>
<rect x="1247.2" y="1930.68" width="20.6" height="5.4" rx="1.2" fill="#E69F00"/>
<rect x="1262.6" y="1864.04" width="20.6" height="5.4" rx="1.2" fill="#56B4E9"/>
<rect x="1145.76" y="1883.69" width="15.4" height="13.7" fill="#E69F00"/>
<rect x="1161.16" y="1869.41" width="15.4" height="13.7" fill="#56B4E9"/>
<rect x="1249.8" y="1926.53" width="15.4" height="13.7" fill="#E69F00"/>
<rect x="1265.2" y="1859.89" width="15.4" height="13.7" fill="#56B4E9"/>
<text x="1265.9" y="1624.9" font-size="21.5" letter-spacing="1.35" fill="#000" text-anchor="middle">*</text>
</g><g>
<rect x="918.9" y="1613.1" width="212.7" height="147.2" fill="#fff" stroke="#000" stroke-width="2.7"/>
<text x="931.8" y="1647.9" font-size="26.4" font-weight="bold" fill="#000">Treatment</text>
<rect x="928.5" y="1665.7" width="37" height="36.6" fill="#f2cf7f"/>
<rect x="928.5" y="1706.4" width="37" height="36.6" fill="#aadaf4"/>
<text x="975.3" y="1691.4" font-size="25.8" fill="#000">CONTROL</text>
<text x="975.3" y="1732.1" font-size="25.8" fill="#000">IRRIGATION</text>
</g>
<rect x="911.2" y="1604.4" width="402.2" height="352.9" fill="none" stroke="#333333" stroke-width="2.6"/>
<line x1="989.8" x2="989.8" y1="1958.4" y2="1965.2" stroke="#333333" stroke-width="5.3"/>
<text x="960.1" y="1990.1" font-size="26.2" fill="#4d4d4d">Jun 30</text>
<line x1="1112.2" x2="1112.2" y1="1958.4" y2="1965.2" stroke="#333333" stroke-width="5.3"/>
<text x="1082.6" y="1990.1" font-size="26.2" fill="#4d4d4d">Jul 20</text>
<line x1="1234.6" x2="1234.6" y1="1958.4" y2="1965.2" stroke="#333333" stroke-width="5.3"/>
<text x="1205.3" y="1990.1" font-size="26.2" fill="#4d4d4d">Aug 09</text>
<text x="76.5" y="2040.8" font-size="36.48" fill="#000"><tspan font-weight="bold" font-size="31">(e)</tspan><tspan dx="-0.7"> Development of Soil Moisture over summer season</tspan></text>
<text transform="translate(25.2,2472) rotate(-90)" font-size="31.2" fill="#000">Soil Moisture Top 5cm [vol-%]</text>
<rect x="77.6" y="2068" width="404.4" height="41.4" fill="#333333"/>
<rect x="80.2" y="2070.6" width="399.2" height="34.9" fill="#d9d9d9"/>
<text x="279.8" y="2095.15" font-size="21" fill="#1a1a1a" text-anchor="middle">2018</text>
<rect x="78.9" y="2109.4" width="401.8" height="353.1" fill="#fff"/>
<clipPath id="c13"><rect x="78.9" y="2109.4" width="401.8" height="353.1"/></clipPath>
<g clip-path="url(#c13)">
<line x1="78.9" x2="480.7" y1="2407.25" y2="2407.25" stroke="#ebebeb" stroke-width="2.6"/>
<line x1="78.9" x2="480.7" y1="2326.35" y2="2326.35" stroke="#ebebeb" stroke-width="2.6"/>
<line x1="78.9" x2="480.7" y1="2245.45" y2="2245.45" stroke="#ebebeb" stroke-width="2.6"/>
<line x1="78.9" x2="480.7" y1="2164.55" y2="2164.55" stroke="#ebebeb" stroke-width="2.6"/>
<line x1="95.75" x2="95.75" y1="2109.4" y2="2462.5" stroke="#ebebeb" stroke-width="2.6"/>
<line x1="218.45" x2="218.45" y1="2109.4" y2="2462.5" stroke="#ebebeb" stroke-width="2.6"/>
<line x1="341.15" x2="341.15" y1="2109.4" y2="2462.5" stroke="#ebebeb" stroke-width="2.6"/>
<line x1="463.85" x2="463.85" y1="2109.4" y2="2462.5" stroke="#ebebeb" stroke-width="2.6"/>
<line x1="78.9" x2="480.7" y1="2447.7" y2="2447.7" stroke="#ebebeb" stroke-width="5.2"/>
<line x1="78.9" x2="480.7" y1="2366.8" y2="2366.8" stroke="#ebebeb" stroke-width="5.2"/>
<line x1="78.9" x2="480.7" y1="2285.9" y2="2285.9" stroke="#ebebeb" stroke-width="5.2"/>
<line x1="78.9" x2="480.7" y1="2205" y2="2205" stroke="#ebebeb" stroke-width="5.2"/>
<line x1="78.9" x2="480.7" y1="2124.1" y2="2124.1" stroke="#ebebeb" stroke-width="5.2"/>
<line x1="157.1" x2="157.1" y1="2109.4" y2="2462.5" stroke="#ebebeb" stroke-width="5.2"/>
<line x1="279.8" x2="279.8" y1="2109.4" y2="2462.5" stroke="#ebebeb" stroke-width="5.2"/>
<line x1="402.5" x2="402.5" y1="2109.4" y2="2462.5" stroke="#ebebeb" stroke-width="5.2"/>
<path d="M170.14 2429.09 L169.91 2427.17 L169.59 2425.25 L169.22 2423.33 L168.84 2421.41 L168.44 2418.98 L168.01 2416.55 L167.58 2414.13 L167.19 2411.7 L166.84 2409.17 L166.51 2406.64 L166.21 2404.12 L165.94 2401.59 L165.69 2399.16 L165.47 2396.73 L165.28 2394.31 L165.14 2391.88 L165.02 2389.45 L164.94 2387.02 L164.92 2384.6 L164.94 2382.17 L165.04 2377.22 L165.21 2372.26 L165.42 2367.31 L165.64 2362.35 L165.86 2357.5 L166.11 2352.64 L166.37 2347.79 L166.64 2342.93 L166.91 2337.98 L167.19 2333.02 L167.5 2328.07 L167.84 2323.11 L168.23 2318.26 L168.66 2313.41 L169.11 2308.55 L169.54 2303.7 L169.97 2298.74 L170.41 2293.79 L170.81 2288.83 L171.18 2283.88 L171.5 2279.02 L171.72 2274.17 L171.87 2269.32 L172.02 2264.46 L172.15 2261.73 L172.24 2259 L172.31 2256.27 L172.37 2253.54 L172.4 2248.48 L172.4 2243.43 L172.4 2238.37 L172.44 2233.31 L172.44 2233.31 L172.48 2238.37 L172.48 2243.43 L172.48 2248.48 L172.51 2253.54 L172.56 2256.27 L172.63 2259 L172.73 2261.73 L172.86 2264.46 L173 2269.32 L173.16 2274.17 L173.38 2279.02 L173.7 2283.88 L174.06 2288.83 L174.47 2293.79 L174.91 2298.74 L175.34 2303.7 L175.77 2308.55 L176.21 2313.41 L176.65 2318.26 L177.04 2323.11 L177.38 2328.07 L177.68 2333.02 L177.96 2337.98 L178.24 2342.93 L178.51 2347.79 L178.77 2352.64 L179.01 2357.5 L179.24 2362.35 L179.45 2367.31 L179.66 2372.26 L179.83 2377.22 L179.94 2382.17 L179.96 2384.6 L179.93 2387.02 L179.85 2389.45 L179.74 2391.88 L179.59 2394.31 L179.4 2396.73 L179.18 2399.16 L178.94 2401.59 L178.67 2404.12 L178.37 2406.64 L178.04 2409.17 L177.69 2411.7 L177.29 2414.13 L176.87 2416.55 L176.43 2418.98 L176.04 2421.41 L175.66 2423.33 L175.28 2425.25 L174.96 2427.17 L174.74 2429.09 Z" fill="#E69F00" fill-opacity="0.5" stroke="#E69F00" stroke-width="6.3" stroke-linejoin="round" stroke-linecap="round"/>
<path d="M189.86 2426.26 L189.78 2425.05 L189.66 2423.83 L189.47 2422.62 L189.24 2421.41 L188.9 2418.98 L188.46 2416.55 L187.99 2414.13 L187.54 2411.7 L187.13 2409.17 L186.72 2406.64 L186.32 2404.12 L185.94 2401.59 L185.58 2399.16 L185.24 2396.73 L184.93 2394.31 L184.64 2391.88 L184.4 2389.45 L184.19 2387.02 L184.01 2384.6 L183.84 2382.17 L183.67 2378.73 L183.5 2375.29 L183.38 2371.86 L183.34 2368.42 L183.42 2365.69 L183.58 2362.96 L183.8 2360.23 L184.04 2357.5 L184.32 2353.86 L184.64 2350.22 L184.98 2346.57 L185.34 2342.93 L185.72 2337.98 L186.11 2333.02 L186.52 2328.07 L186.94 2323.11 L187.39 2318.26 L187.85 2313.41 L188.32 2308.55 L188.74 2303.7 L189.15 2298.74 L189.58 2293.79 L190.06 2288.83 L190.42 2283.88 L190.63 2281.35 L190.72 2278.82 L190.74 2276.29 L190.77 2273.76 L190.8 2259.1 L190.8 2244.44 L190.8 2229.78 L190.84 2215.11 L190.84 2215.11 L190.88 2229.78 L190.88 2244.44 L190.88 2259.1 L190.91 2273.76 L190.94 2276.29 L190.97 2278.82 L191.06 2281.35 L191.26 2283.88 L191.63 2288.83 L192.11 2293.79 L192.54 2298.74 L192.94 2303.7 L193.37 2308.55 L193.83 2313.41 L194.3 2318.26 L194.74 2323.11 L195.16 2328.07 L195.57 2333.02 L195.97 2337.98 L196.34 2342.93 L196.7 2346.57 L197.05 2350.22 L197.37 2353.86 L197.64 2357.5 L197.89 2360.23 L198.1 2362.96 L198.27 2365.69 L198.34 2368.42 L198.31 2371.86 L198.19 2375.29 L198.02 2378.73 L197.84 2382.17 L197.68 2384.6 L197.49 2387.02 L197.28 2389.45 L197.04 2391.88 L196.76 2394.31 L196.44 2396.73 L196.1 2399.16 L195.74 2401.59 L195.37 2404.12 L194.97 2406.64 L194.56 2409.17 L194.14 2411.7 L193.7 2414.13 L193.22 2416.55 L192.79 2418.98 L192.44 2421.41 L192.21 2422.62 L192.02 2423.83 L191.91 2425.05 L191.82 2426.26 Z" fill="#56B4E9" fill-opacity="0.5" stroke="#56B4E9" stroke-width="6.3" stroke-linejoin="round" stroke-linecap="round"/>
<path d="M306.85 2442.44 L306.42 2440.12 L305.86 2437.79 L305.35 2435.46 L304.81 2433.14 L304.23 2430.71 L303.6 2428.28 L302.96 2425.86 L302.36 2423.43 L301.78 2420.4 L301.21 2417.36 L300.7 2414.33 L300.31 2411.29 L300.05 2408.26 L299.89 2405.23 L299.81 2402.19 L299.81 2399.16 L299.88 2396.13 L300.03 2393.09 L300.25 2390.06 L300.51 2387.02 L300.83 2383.99 L301.23 2380.96 L301.63 2377.92 L302.01 2374.89 L302.33 2371.86 L302.63 2368.82 L302.91 2365.79 L303.21 2362.75 L303.49 2358.31 L303.76 2353.86 L304.06 2349.41 L304.41 2344.96 L304.86 2338.89 L305.39 2332.82 L305.9 2326.75 L306.43 2320.69 L306.8 2318.06 L307.04 2315.43 L307.21 2312.8 L307.34 2310.17 L307.37 2294.5 L307.37 2278.82 L307.37 2263.15 L307.41 2247.47 L307.41 2247.47 L307.45 2263.15 L307.45 2278.82 L307.45 2294.5 L307.48 2310.17 L307.6 2312.8 L307.77 2315.43 L308.02 2318.06 L308.39 2320.69 L308.91 2326.75 L309.42 2332.82 L309.95 2338.89 L310.41 2344.96 L310.76 2349.41 L311.05 2353.86 L311.32 2358.31 L311.61 2362.75 L311.9 2365.79 L312.19 2368.82 L312.49 2371.86 L312.81 2374.89 L313.18 2377.92 L313.59 2380.96 L313.98 2383.99 L314.31 2387.02 L314.57 2390.06 L314.78 2393.09 L314.94 2396.13 L315.01 2399.16 L315 2402.19 L314.93 2405.23 L314.77 2408.26 L314.51 2411.29 L314.11 2414.33 L313.6 2417.36 L313.03 2420.4 L312.46 2423.43 L311.86 2425.86 L311.22 2428.28 L310.58 2430.71 L310.01 2433.14 L309.47 2435.46 L308.95 2437.79 L308.4 2440.12 L307.97 2442.44 Z" fill="#E69F00" fill-opacity="0.5" stroke="#E69F00" stroke-width="6.3" stroke-linejoin="round" stroke-linecap="round"/>
<path d="M325.11 2403.2 L324.9 2401.59 L324.61 2399.97 L324.29 2398.35 L324.01 2396.73 L323.71 2394.31 L323.37 2391.88 L323.01 2389.45 L322.61 2387.02 L322.18 2383.99 L321.72 2380.96 L321.24 2377.92 L320.76 2374.89 L320.28 2371.86 L319.77 2368.82 L319.3 2365.79 L318.91 2362.75 L318.62 2359.82 L318.38 2356.89 L318.22 2353.96 L318.11 2351.02 L318.09 2347.99 L318.11 2344.96 L318.19 2341.92 L318.31 2338.89 L318.46 2335.86 L318.66 2332.82 L318.9 2329.79 L319.21 2326.75 L319.61 2322.2 L320.09 2317.65 L320.6 2313.1 L321.11 2308.55 L321.64 2304 L322.21 2299.45 L322.75 2294.9 L323.21 2290.35 L323.59 2285.9 L323.89 2281.45 L324.16 2277 L324.41 2272.55 L324.75 2267.8 L325.06 2263.05 L325.32 2258.29 L325.53 2253.54 L325.67 2249.49 L325.74 2245.45 L325.77 2241.4 L325.77 2237.36 L325.77 2212.08 L325.77 2186.8 L325.77 2161.52 L325.81 2136.23 L325.81 2136.23 L325.85 2161.52 L325.85 2186.8 L325.85 2212.08 L325.85 2237.36 L325.85 2241.4 L325.88 2245.45 L325.96 2249.49 L326.09 2253.54 L326.3 2258.29 L326.56 2263.05 L326.87 2267.8 L327.21 2272.55 L327.46 2277 L327.73 2281.45 L328.04 2285.9 L328.41 2290.35 L328.88 2294.9 L329.42 2299.45 L329.98 2304 L330.51 2308.55 L331.02 2313.1 L331.54 2317.65 L332.01 2322.2 L332.41 2326.75 L332.72 2329.79 L332.97 2332.82 L333.16 2335.86 L333.31 2338.89 L333.44 2341.92 L333.52 2344.96 L333.53 2347.99 L333.51 2351.02 L333.41 2353.96 L333.24 2356.89 L333.01 2359.82 L332.71 2362.75 L332.32 2365.79 L331.85 2368.82 L331.35 2371.86 L330.86 2374.89 L330.39 2377.92 L329.91 2380.96 L329.44 2383.99 L329.01 2387.02 L328.62 2389.45 L328.25 2391.88 L327.92 2394.31 L327.61 2396.73 L327.33 2398.35 L327.02 2399.97 L326.72 2401.59 L326.51 2403.2 Z" fill="#56B4E9" fill-opacity="0.5" stroke="#56B4E9" stroke-width="6.3" stroke-linejoin="round" stroke-linecap="round"/>
<path d="M365.26 2446.49 L364.65 2444.62 L363.77 2442.74 L362.86 2440.87 L362.16 2439 L361.72 2437.23 L361.43 2435.46 L361.25 2433.69 L361.16 2431.92 L361.15 2429.8 L361.24 2427.68 L361.41 2425.55 L361.66 2423.43 L362 2420.4 L362.44 2417.36 L362.91 2414.33 L363.36 2411.29 L363.77 2408.26 L364.19 2405.23 L364.59 2402.19 L364.96 2399.16 L365.29 2396.13 L365.58 2393.09 L365.87 2390.06 L366.16 2387.02 L366.46 2382.47 L366.78 2377.92 L367.08 2373.37 L367.36 2368.82 L367.73 2365.28 L368.08 2361.74 L368.39 2358.2 L368.62 2354.66 L368.72 2341.52 L368.72 2328.37 L368.72 2315.23 L368.76 2302.08 L368.76 2302.08 L368.8 2315.23 L368.8 2328.37 L368.8 2341.52 L368.9 2354.66 L369.12 2358.2 L369.43 2361.74 L369.79 2365.28 L370.16 2368.82 L370.44 2373.37 L370.74 2377.92 L371.05 2382.47 L371.36 2387.02 L371.65 2390.06 L371.93 2393.09 L372.23 2396.13 L372.56 2399.16 L372.93 2402.19 L373.33 2405.23 L373.74 2408.26 L374.16 2411.29 L374.6 2414.33 L375.08 2417.36 L375.51 2420.4 L375.86 2423.43 L376.1 2425.55 L376.28 2427.68 L376.37 2429.8 L376.36 2431.92 L376.26 2433.69 L376.08 2435.46 L375.79 2437.23 L375.36 2439 L374.66 2440.87 L373.75 2442.74 L372.86 2444.62 L372.26 2446.49 Z" fill="#E69F00" fill-opacity="0.5" stroke="#E69F00" stroke-width="6.3" stroke-linejoin="round" stroke-linecap="round"/>
<path d="M386.74 2418.17 L386.63 2416.45 L386.46 2414.73 L386.26 2413.01 L386.04 2411.29 L385.8 2408.26 L385.59 2405.23 L385.38 2402.19 L385.16 2399.16 L384.94 2396.13 L384.7 2393.09 L384.45 2390.06 L384.16 2387.02 L383.84 2383.99 L383.49 2380.96 L383.11 2377.92 L382.71 2374.89 L382.27 2371.86 L381.78 2368.82 L381.3 2365.79 L380.86 2362.75 L380.45 2359.52 L380.05 2356.28 L379.73 2353.05 L379.56 2349.81 L379.58 2347.08 L379.74 2344.35 L379.98 2341.62 L380.26 2338.89 L380.58 2335.86 L380.96 2332.82 L381.36 2329.79 L381.76 2326.75 L382.15 2323.72 L382.54 2320.69 L382.95 2317.65 L383.36 2314.62 L383.82 2310.07 L384.31 2305.52 L384.77 2300.97 L385.16 2296.42 L385.46 2290.45 L385.68 2284.48 L385.92 2278.52 L386.18 2272.55 L386.45 2268.81 L386.71 2265.07 L386.93 2261.33 L387.09 2257.59 L387.12 2249.49 L387.12 2241.4 L387.12 2233.31 L387.16 2225.22 L387.16 2225.22 L387.2 2233.31 L387.2 2241.4 L387.2 2249.49 L387.23 2257.59 L387.39 2261.33 L387.61 2265.07 L387.87 2268.81 L388.14 2272.55 L388.4 2278.52 L388.64 2284.48 L388.87 2290.45 L389.16 2296.42 L389.55 2300.97 L390.02 2305.52 L390.51 2310.07 L390.96 2314.62 L391.38 2317.65 L391.78 2320.69 L392.17 2323.72 L392.56 2326.75 L392.96 2329.79 L393.37 2332.82 L393.75 2335.86 L394.06 2338.89 L394.34 2341.62 L394.59 2344.35 L394.75 2347.08 L394.76 2349.81 L394.59 2353.05 L394.27 2356.28 L393.87 2359.52 L393.46 2362.75 L393.03 2365.79 L392.55 2368.82 L392.06 2371.86 L391.61 2374.89 L391.21 2377.92 L390.83 2380.96 L390.48 2383.99 L390.16 2387.02 L389.88 2390.06 L389.62 2393.09 L389.39 2396.13 L389.16 2399.16 L388.94 2402.19 L388.73 2405.23 L388.53 2408.26 L388.28 2411.29 L388.06 2413.01 L387.86 2414.73 L387.7 2416.45 L387.58 2418.17 Z" fill="#56B4E9" fill-opacity="0.5" stroke="#56B4E9" stroke-width="6.3" stroke-linejoin="round" stroke-linecap="round"/>
<rect x="163.64" y="2365.72" width="20.6" height="5.4" rx="1.2" fill="#E69F00"/>
<rect x="179.04" y="2364.1" width="20.6" height="5.4" rx="1.2" fill="#56B4E9"/>
<rect x="298.61" y="2386.35" width="20.6" height="5.4" rx="1.2" fill="#E69F00"/>
<rect x="314.01" y="2334.17" width="20.6" height="5.4" rx="1.2" fill="#56B4E9"/>
<rect x="359.96" y="2418.71" width="20.6" height="5.4" rx="1.2" fill="#E69F00"/>
<rect x="375.36" y="2346.71" width="20.6" height="5.4" rx="1.2" fill="#56B4E9"/>
<rect x="166.24" y="2361.57" width="15.4" height="13.7" fill="#E69F00"/>
<rect x="181.64" y="2359.95" width="15.4" height="13.7" fill="#56B4E9"/>
<rect x="301.21" y="2382.2" width="15.4" height="13.7" fill="#E69F00"/>
<rect x="316.61" y="2330.02" width="15.4" height="13.7" fill="#56B4E9"/>
<rect x="362.56" y="2414.56" width="15.4" height="13.7" fill="#E69F00"/>
<rect x="377.96" y="2342.56" width="15.4" height="13.7" fill="#56B4E9"/>
<text x="317.31" y="2129.9" font-size="21.5" letter-spacing="1.35" fill="#000" text-anchor="middle">***</text>
<text x="378.66" y="2129.9" font-size="21.5" letter-spacing="1.35" fill="#000" text-anchor="middle">***</text>
</g><g>
</g>
<rect x="78.9" y="2109.4" width="401.8" height="353.1" fill="none" stroke="#333333" stroke-width="2.6"/>
<line x1="157.1" x2="157.1" y1="2463.6" y2="2470.4" stroke="#333333" stroke-width="5.3"/>
<text x="126.8" y="2495.3" font-size="26.2" fill="#4d4d4d">Jun 30</text>
<line x1="279.8" x2="279.8" y1="2463.6" y2="2470.4" stroke="#333333" stroke-width="5.3"/>
<text x="249.3" y="2495.3" font-size="26.2" fill="#4d4d4d">Jul 20</text>
<line x1="402.5" x2="402.5" y1="2463.6" y2="2470.4" stroke="#333333" stroke-width="5.3"/>
<text x="371.7" y="2495.3" font-size="26.2" fill="#4d4d4d">Aug 09</text>
<line x1="71" x2="77.8" y1="2447.7" y2="2447.7" stroke="#333333" stroke-width="5.3"/>
<text x="63.9" y="2455.2" font-size="26.2" fill="#4d4d4d" text-anchor="end">0</text>
<line x1="71" x2="77.8" y1="2366.8" y2="2366.8" stroke="#333333" stroke-width="5.3"/>
<text x="66.2" y="2374.3" font-size="26.2" fill="#4d4d4d" text-anchor="end">20</text>
<line x1="71" x2="77.8" y1="2285.9" y2="2285.9" stroke="#333333" stroke-width="5.3"/>
<text x="66.2" y="2293.4" font-size="26.2" fill="#4d4d4d" text-anchor="end">40</text>
<line x1="71" x2="77.8" y1="2205" y2="2205" stroke="#333333" stroke-width="5.3"/>
<text x="66.2" y="2212.5" font-size="26.2" fill="#4d4d4d" text-anchor="end">60</text>
<line x1="71" x2="77.8" y1="2124.1" y2="2124.1" stroke="#333333" stroke-width="5.3"/>
<text x="66.2" y="2131.6" font-size="26.2" fill="#4d4d4d" text-anchor="end">80</text>
<rect x="497.3" y="2068" width="404.6" height="41.4" fill="#333333"/>
<rect x="499.9" y="2070.6" width="399.4" height="34.9" fill="#d9d9d9"/>
<text x="699.6" y="2095.15" font-size="21" fill="#1a1a1a" text-anchor="middle">2019</text>
<rect x="498.6" y="2109.4" width="402" height="353.1" fill="#fff"/>
<clipPath id="c14"><rect x="498.6" y="2109.4" width="402" height="353.1"/></clipPath>
<g clip-path="url(#c14)">
<line x1="498.6" x2="900.6" y1="2407.25" y2="2407.25" stroke="#ebebeb" stroke-width="2.6"/>
<line x1="498.6" x2="900.6" y1="2326.35" y2="2326.35" stroke="#ebebeb" stroke-width="2.6"/>
<line x1="498.6" x2="900.6" y1="2245.45" y2="2245.45" stroke="#ebebeb" stroke-width="2.6"/>
<line x1="498.6" x2="900.6" y1="2164.55" y2="2164.55" stroke="#ebebeb" stroke-width="2.6"/>
<line x1="515.65" x2="515.65" y1="2109.4" y2="2462.5" stroke="#ebebeb" stroke-width="2.6"/>
<line x1="638.35" x2="638.35" y1="2109.4" y2="2462.5" stroke="#ebebeb" stroke-width="2.6"/>
<line x1="761.05" x2="761.05" y1="2109.4" y2="2462.5" stroke="#ebebeb" stroke-width="2.6"/>
<line x1="883.75" x2="883.75" y1="2109.4" y2="2462.5" stroke="#ebebeb" stroke-width="2.6"/>
<line x1="498.6" x2="900.6" y1="2447.7" y2="2447.7" stroke="#ebebeb" stroke-width="5.2"/>
<line x1="498.6" x2="900.6" y1="2366.8" y2="2366.8" stroke="#ebebeb" stroke-width="5.2"/>
<line x1="498.6" x2="900.6" y1="2285.9" y2="2285.9" stroke="#ebebeb" stroke-width="5.2"/>
<line x1="498.6" x2="900.6" y1="2205" y2="2205" stroke="#ebebeb" stroke-width="5.2"/>
<line x1="498.6" x2="900.6" y1="2124.1" y2="2124.1" stroke="#ebebeb" stroke-width="5.2"/>
<line x1="577" x2="577" y1="2109.4" y2="2462.5" stroke="#ebebeb" stroke-width="5.2"/>
<line x1="699.7" x2="699.7" y1="2109.4" y2="2462.5" stroke="#ebebeb" stroke-width="5.2"/>
<line x1="822.4" x2="822.4" y1="2109.4" y2="2462.5" stroke="#ebebeb" stroke-width="5.2"/>
<path d="M560 2447.7 L560.45 2446.99 L561.12 2446.28 L561.82 2445.58 L562.4 2444.87 L562.78 2444.21 L563.07 2443.55 L563.35 2442.9 L563.7 2442.24 L564.17 2441.28 L564.72 2440.32 L565.25 2439.36 L565.7 2438.4 L566.03 2437.18 L566.28 2435.97 L566.54 2434.76 L566.82 2433.54 L567.08 2432.03 L567.32 2430.51 L567.51 2428.99 L567.66 2427.47 L567.75 2415.34 L567.76 2403.2 L567.76 2391.07 L567.8 2378.93 L567.8 2378.93 L567.84 2391.07 L567.84 2403.2 L567.85 2415.34 L567.94 2427.47 L568.09 2428.99 L568.28 2430.51 L568.51 2432.03 L568.78 2433.54 L569.06 2434.76 L569.31 2435.97 L569.57 2437.18 L569.9 2438.4 L570.34 2439.36 L570.88 2440.32 L571.42 2441.28 L571.9 2442.24 L572.25 2442.9 L572.52 2443.55 L572.81 2444.21 L573.2 2444.87 L573.78 2445.58 L574.48 2446.28 L575.14 2446.99 L575.6 2447.7 Z" fill="#E69F00" fill-opacity="0.5" stroke="#E69F00" stroke-width="6.3" stroke-linejoin="round" stroke-linecap="round"/>
<path d="M578.5 2447.7 L578.52 2446.79 L578.54 2445.88 L578.59 2444.97 L578.7 2444.06 L578.88 2442.64 L579.1 2441.23 L579.37 2439.81 L579.7 2438.4 L580.11 2435.92 L580.59 2433.44 L581.1 2430.96 L581.6 2428.49 L582.11 2426.01 L582.63 2423.53 L583.14 2421.05 L583.6 2418.58 L584.04 2416.15 L584.45 2413.72 L584.81 2411.29 L585.22 2408.87 L585.51 2406.44 L585.69 2404.01 L585.81 2401.59 L585.92 2399.16 L586.03 2394.1 L586.11 2389.05 L586.16 2383.99 L586.16 2378.93 L586.16 2354.66 L586.16 2330.39 L586.16 2306.12 L586.2 2281.86 L586.2 2281.86 L586.24 2306.12 L586.24 2330.39 L586.24 2354.66 L586.24 2378.93 L586.24 2383.99 L586.3 2389.05 L586.38 2394.1 L586.48 2399.16 L586.6 2401.59 L586.72 2404.01 L586.9 2406.44 L587.18 2408.87 L587.59 2411.29 L587.96 2413.72 L588.37 2416.15 L588.8 2418.58 L589.27 2421.05 L589.78 2423.53 L590.3 2426.01 L590.8 2428.49 L591.31 2430.96 L591.81 2433.44 L592.29 2435.92 L592.7 2438.4 L593.03 2439.81 L593.31 2441.23 L593.53 2442.64 L593.7 2444.06 L593.81 2444.97 L593.87 2445.88 L593.89 2446.79 L593.9 2447.7 Z" fill="#56B4E9" fill-opacity="0.5" stroke="#56B4E9" stroke-width="6.3" stroke-linejoin="round" stroke-linecap="round"/>
<path d="M706.25 2447.3 L705.79 2445.27 L705.13 2443.25 L704.41 2441.23 L703.8 2439.21 L703.31 2437.08 L702.87 2434.96 L702.49 2432.83 L702.2 2430.71 L701.99 2428.49 L701.87 2426.26 L701.87 2424.04 L701.9 2421.81 L702.13 2419.69 L702.49 2417.56 L702.93 2415.44 L703.4 2413.32 L703.94 2411.19 L704.56 2409.07 L705.17 2406.95 L705.7 2404.82 L706.13 2402.29 L706.48 2399.77 L706.8 2397.24 L707.1 2394.71 L707.4 2391.12 L707.73 2387.53 L708.07 2383.94 L708.34 2380.35 L708.54 2378.99 L708.67 2377.62 L708.76 2376.26 L708.83 2374.89 L708.86 2367.81 L708.86 2360.73 L708.86 2353.65 L708.9 2346.57 L708.9 2346.57 L708.94 2353.65 L708.94 2360.73 L708.94 2367.81 L708.97 2374.89 L709.04 2376.26 L709.13 2377.62 L709.27 2378.99 L709.46 2380.35 L709.74 2383.94 L710.07 2387.53 L710.41 2391.12 L710.7 2394.71 L711 2397.24 L711.32 2399.77 L711.68 2402.29 L712.1 2404.82 L712.63 2406.95 L713.25 2409.07 L713.86 2411.19 L714.4 2413.32 L714.88 2415.44 L715.32 2417.56 L715.67 2419.69 L715.9 2421.81 L715.93 2424.04 L715.93 2426.26 L715.81 2428.49 L715.6 2430.71 L715.31 2432.83 L714.94 2434.96 L714.49 2437.08 L714 2439.21 L713.39 2441.23 L712.68 2443.25 L712.01 2445.27 L711.55 2447.3 Z" fill="#E69F00" fill-opacity="0.5" stroke="#E69F00" stroke-width="6.3" stroke-linejoin="round" stroke-linecap="round"/>
<path d="M723.91 2447.3 L723.39 2444.87 L722.64 2442.44 L721.85 2440.01 L721.21 2437.59 L720.72 2435.46 L720.31 2433.34 L719.99 2431.22 L719.81 2429.09 L719.78 2427.27 L719.89 2425.45 L720.09 2423.63 L720.31 2421.81 L720.55 2419.69 L720.83 2417.56 L721.16 2415.44 L721.51 2413.32 L721.9 2411.19 L722.34 2409.07 L722.79 2406.95 L723.21 2404.82 L723.59 2402.29 L723.95 2399.77 L724.3 2397.24 L724.66 2394.71 L725.04 2391.12 L725.43 2387.53 L725.79 2383.94 L726.19 2380.35 L726.54 2377.97 L726.84 2375.6 L727.07 2373.22 L727.24 2370.84 L727.27 2364.78 L727.27 2358.71 L727.27 2352.64 L727.31 2346.57 L727.31 2346.57 L727.35 2352.64 L727.35 2358.71 L727.35 2364.78 L727.38 2370.84 L727.55 2373.22 L727.78 2375.6 L728.07 2377.97 L728.43 2380.35 L728.82 2383.94 L729.19 2387.53 L729.58 2391.12 L729.96 2394.71 L730.31 2397.24 L730.67 2399.77 L731.03 2402.29 L731.41 2404.82 L731.83 2406.95 L732.27 2409.07 L732.71 2411.19 L733.11 2413.32 L733.46 2415.44 L733.78 2417.56 L734.07 2419.69 L734.31 2421.81 L734.53 2423.63 L734.72 2425.45 L734.83 2427.27 L734.81 2429.09 L734.62 2431.22 L734.31 2433.34 L733.89 2435.46 L733.41 2437.59 L732.76 2440.01 L731.97 2442.44 L731.22 2444.87 L730.71 2447.3 Z" fill="#56B4E9" fill-opacity="0.5" stroke="#56B4E9" stroke-width="6.3" stroke-linejoin="round" stroke-linecap="round"/>
<path d="M799.06 2447.7 L799.2 2446.64 L799.4 2445.58 L799.68 2444.51 L800.06 2443.45 L800.61 2441.99 L801.29 2440.52 L802 2439.05 L802.66 2437.59 L803.26 2435.87 L803.83 2434.15 L804.37 2432.43 L804.86 2430.71 L805.31 2428.89 L805.76 2427.07 L806.26 2425.25 L806.64 2423.43 L806.88 2419.38 L806.98 2415.34 L807.02 2411.29 L807.02 2407.25 L807.02 2395.72 L807.02 2384.19 L807.02 2372.67 L807.06 2361.14 L807.06 2361.14 L807.1 2372.67 L807.1 2384.19 L807.1 2395.72 L807.1 2407.25 L807.1 2411.29 L807.14 2415.34 L807.25 2419.38 L807.48 2423.43 L807.87 2425.25 L808.37 2427.07 L808.81 2428.89 L809.26 2430.71 L809.75 2432.43 L810.29 2434.15 L810.87 2435.87 L811.46 2437.59 L812.12 2439.05 L812.84 2440.52 L813.52 2441.99 L814.06 2443.45 L814.45 2444.51 L814.73 2445.58 L814.92 2446.64 L815.06 2447.7 Z" fill="#E69F00" fill-opacity="0.5" stroke="#E69F00" stroke-width="6.3" stroke-linejoin="round" stroke-linecap="round"/>
<path d="M817.97 2447.7 L818.2 2446.64 L818.52 2445.58 L818.91 2444.51 L819.37 2443.45 L819.91 2441.99 L820.54 2440.52 L821.18 2439.05 L821.77 2437.59 L822.29 2435.87 L822.79 2434.15 L823.25 2432.43 L823.67 2430.71 L824.04 2428.89 L824.5 2427.07 L824.89 2425.25 L825.19 2423.43 L825.36 2419.38 L825.43 2415.34 L825.43 2411.29 L825.43 2407.25 L825.43 2395.11 L825.43 2382.98 L825.43 2370.84 L825.47 2358.71 L825.47 2358.71 L825.51 2370.84 L825.51 2382.98 L825.51 2395.11 L825.51 2407.25 L825.51 2411.29 L825.51 2415.34 L825.57 2419.38 L825.75 2423.43 L826.05 2425.25 L826.44 2427.07 L826.89 2428.89 L827.27 2430.71 L827.68 2432.43 L828.14 2434.15 L828.64 2435.87 L829.17 2437.59 L829.76 2439.05 L830.4 2440.52 L831.03 2441.99 L831.57 2443.45 L832.02 2444.51 L832.42 2445.58 L832.74 2446.64 L832.97 2447.7 Z" fill="#56B4E9" fill-opacity="0.5" stroke="#56B4E9" stroke-width="6.3" stroke-linejoin="round" stroke-linecap="round"/>
<rect x="559" y="2444.39" width="20.6" height="5.4" rx="1.2" fill="#E69F00"/>
<rect x="574.4" y="2436.91" width="20.6" height="5.4" rx="1.2" fill="#56B4E9"/>
<rect x="700.11" y="2420.33" width="20.6" height="5.4" rx="1.2" fill="#E69F00"/>
<rect x="715.5" y="2423.16" width="20.6" height="5.4" rx="1.2" fill="#56B4E9"/>
<rect x="798.26" y="2441.36" width="20.6" height="5.4" rx="1.2" fill="#E69F00"/>
<rect x="813.66" y="2444.39" width="20.6" height="5.4" rx="1.2" fill="#56B4E9"/>
<rect x="561.6" y="2440.24" width="15.4" height="13.7" fill="#E69F00"/>
<rect x="577" y="2432.76" width="15.4" height="13.7" fill="#56B4E9"/>
<rect x="702.71" y="2416.18" width="15.4" height="13.7" fill="#E69F00"/>
<rect x="718.11" y="2419.01" width="15.4" height="13.7" fill="#56B4E9"/>
<rect x="800.87" y="2437.21" width="15.4" height="13.7" fill="#E69F00"/>
<rect x="816.26" y="2440.24" width="15.4" height="13.7" fill="#56B4E9"/>
<text x="577.7" y="2129.9" font-size="21.5" letter-spacing="1.35" fill="#000" text-anchor="middle">**</text>
</g><g>
</g>
<rect x="498.6" y="2109.4" width="402" height="353.1" fill="none" stroke="#333333" stroke-width="2.6"/>
<line x1="577" x2="577" y1="2463.6" y2="2470.4" stroke="#333333" stroke-width="5.3"/>
<text x="543.3" y="2495.3" font-size="26.2" fill="#4d4d4d">Jun 30</text>
<line x1="699.7" x2="699.7" y1="2463.6" y2="2470.4" stroke="#333333" stroke-width="5.3"/>
<text x="665.7" y="2495.3" font-size="26.2" fill="#4d4d4d">Jul 20</text>
<line x1="822.4" x2="822.4" y1="2463.6" y2="2470.4" stroke="#333333" stroke-width="5.3"/>
<text x="788.2" y="2495.3" font-size="26.2" fill="#4d4d4d">Aug 09</text>
<rect x="917" y="2068" width="404.9" height="41.4" fill="#333333"/>
<rect x="919.6" y="2070.6" width="399.7" height="34.9" fill="#d9d9d9"/>
<text x="1119.45" y="2095.15" font-size="21" fill="#1a1a1a" text-anchor="middle">2020</text>
<rect x="918.3" y="2109.4" width="402.3" height="353.1" fill="#fff"/>
<clipPath id="c15"><rect x="918.3" y="2109.4" width="402.3" height="353.1"/></clipPath>
<g clip-path="url(#c15)">
<line x1="918.3" x2="1320.6" y1="2407.25" y2="2407.25" stroke="#ebebeb" stroke-width="2.6"/>
<line x1="918.3" x2="1320.6" y1="2326.35" y2="2326.35" stroke="#ebebeb" stroke-width="2.6"/>
<line x1="918.3" x2="1320.6" y1="2245.45" y2="2245.45" stroke="#ebebeb" stroke-width="2.6"/>
<line x1="918.3" x2="1320.6" y1="2164.55" y2="2164.55" stroke="#ebebeb" stroke-width="2.6"/>
<line x1="935.25" x2="935.25" y1="2109.4" y2="2462.5" stroke="#ebebeb" stroke-width="2.6"/>
<line x1="1057.95" x2="1057.95" y1="2109.4" y2="2462.5" stroke="#ebebeb" stroke-width="2.6"/>
<line x1="1180.65" x2="1180.65" y1="2109.4" y2="2462.5" stroke="#ebebeb" stroke-width="2.6"/>
<line x1="1303.35" x2="1303.35" y1="2109.4" y2="2462.5" stroke="#ebebeb" stroke-width="2.6"/>
<line x1="918.3" x2="1320.6" y1="2447.7" y2="2447.7" stroke="#ebebeb" stroke-width="5.2"/>
<line x1="918.3" x2="1320.6" y1="2366.8" y2="2366.8" stroke="#ebebeb" stroke-width="5.2"/>
<line x1="918.3" x2="1320.6" y1="2285.9" y2="2285.9" stroke="#ebebeb" stroke-width="5.2"/>
<line x1="918.3" x2="1320.6" y1="2205" y2="2205" stroke="#ebebeb" stroke-width="5.2"/>
<line x1="918.3" x2="1320.6" y1="2124.1" y2="2124.1" stroke="#ebebeb" stroke-width="5.2"/>
<line x1="996.6" x2="996.6" y1="2109.4" y2="2462.5" stroke="#ebebeb" stroke-width="5.2"/>
<line x1="1119.3" x2="1119.3" y1="2109.4" y2="2462.5" stroke="#ebebeb" stroke-width="5.2"/>
<line x1="1242" x2="1242" y1="2109.4" y2="2462.5" stroke="#ebebeb" stroke-width="5.2"/>
<path d="M1159.04 2446.89 L1158.87 2442.95 L1158.63 2439 L1158.36 2435.06 L1158.06 2431.12 L1157.75 2427.47 L1157.5 2423.83 L1157.23 2420.19 L1156.98 2416.55 L1156.74 2413.01 L1156.51 2409.47 L1156.26 2405.94 L1155.98 2402.4 L1155.64 2398.81 L1155.25 2395.22 L1154.86 2391.63 L1154.48 2388.04 L1154.11 2384.45 L1153.75 2380.86 L1153.4 2377.27 L1153.08 2373.68 L1152.77 2370.14 L1152.49 2366.6 L1152.22 2363.06 L1151.98 2359.52 L1151.72 2355.58 L1151.46 2351.63 L1151.26 2347.69 L1151.18 2343.74 L1151.26 2340.51 L1151.46 2337.27 L1151.72 2334.04 L1151.98 2330.8 L1152.22 2327.16 L1152.47 2323.52 L1152.75 2319.88 L1153.08 2316.24 L1153.46 2310.88 L1153.89 2305.52 L1154.33 2300.16 L1154.78 2294.8 L1155.22 2289.44 L1155.67 2284.08 L1156.11 2278.72 L1156.53 2273.36 L1156.93 2268 L1157.32 2262.64 L1157.67 2257.28 L1158.06 2251.92 L1158.41 2249.8 L1158.7 2247.67 L1158.94 2245.55 L1159.11 2243.43 L1159.14 2234.63 L1159.14 2225.83 L1159.14 2217.03 L1159.18 2208.24 L1159.18 2208.24 L1159.22 2217.03 L1159.22 2225.83 L1159.22 2234.63 L1159.25 2243.43 L1159.42 2245.55 L1159.65 2247.67 L1159.94 2249.8 L1160.3 2251.92 L1160.68 2257.28 L1161.04 2262.64 L1161.43 2268 L1161.83 2273.36 L1162.25 2278.72 L1162.69 2284.08 L1163.14 2289.44 L1163.58 2294.8 L1164.02 2300.16 L1164.47 2305.52 L1164.9 2310.88 L1165.28 2316.24 L1165.6 2319.88 L1165.88 2323.52 L1166.14 2327.16 L1166.38 2330.8 L1166.64 2334.04 L1166.9 2337.27 L1167.1 2340.51 L1167.18 2343.74 L1167.1 2347.69 L1166.9 2351.63 L1166.64 2355.58 L1166.38 2359.52 L1166.13 2363.06 L1165.87 2366.6 L1165.58 2370.14 L1165.28 2373.68 L1164.95 2377.27 L1164.6 2380.86 L1164.24 2384.45 L1163.88 2388.04 L1163.5 2391.63 L1163.1 2395.22 L1162.72 2398.81 L1162.38 2402.4 L1162.09 2405.94 L1161.85 2409.47 L1161.62 2413.01 L1161.38 2416.55 L1161.12 2420.19 L1160.86 2423.83 L1160.61 2427.47 L1160.3 2431.12 L1160 2435.06 L1159.72 2439 L1159.48 2442.95 L1159.32 2446.89 Z" fill="#E69F00" fill-opacity="0.5" stroke="#E69F00" stroke-width="6.3" stroke-linejoin="round" stroke-linecap="round"/>
<path d="M1172.88 2445.27 L1172.49 2441.73 L1171.91 2438.19 L1171.32 2434.65 L1170.88 2431.12 L1170.64 2427.47 L1170.51 2423.83 L1170.44 2420.19 L1170.38 2416.55 L1170.38 2413.01 L1170.38 2409.47 L1170.38 2405.94 L1170.38 2402.4 L1170.41 2398.81 L1170.45 2395.22 L1170.51 2391.63 L1170.58 2388.04 L1170.67 2384.45 L1170.78 2380.86 L1170.92 2377.27 L1171.08 2373.68 L1171.29 2370.14 L1171.53 2366.6 L1171.79 2363.06 L1172.08 2359.52 L1172.41 2354.06 L1172.77 2348.6 L1173.14 2343.14 L1173.48 2337.68 L1173.8 2332.32 L1174.1 2326.96 L1174.39 2321.6 L1174.68 2316.24 L1174.97 2309.06 L1175.25 2301.88 L1175.52 2294.7 L1175.78 2287.52 L1176.05 2280.34 L1176.39 2273.16 L1176.74 2265.98 L1177.02 2258.8 L1177.22 2255.46 L1177.35 2252.12 L1177.44 2248.79 L1177.51 2245.45 L1177.54 2216.12 L1177.54 2186.8 L1177.54 2157.47 L1177.58 2128.14 L1177.58 2128.14 L1177.62 2157.47 L1177.62 2186.8 L1177.62 2216.12 L1177.65 2245.45 L1177.72 2248.79 L1177.81 2252.12 L1177.95 2255.46 L1178.14 2258.8 L1178.43 2265.98 L1178.78 2273.16 L1179.11 2280.34 L1179.38 2287.52 L1179.65 2294.7 L1179.92 2301.88 L1180.2 2309.06 L1180.48 2316.24 L1180.77 2321.6 L1181.06 2326.96 L1181.37 2332.32 L1181.68 2337.68 L1182.03 2343.14 L1182.4 2348.6 L1182.76 2354.06 L1183.08 2359.52 L1183.37 2363.06 L1183.64 2366.6 L1183.88 2370.14 L1184.08 2373.68 L1184.25 2377.27 L1184.38 2380.86 L1184.49 2384.45 L1184.58 2388.04 L1184.66 2391.63 L1184.71 2395.22 L1184.75 2398.81 L1184.78 2402.4 L1184.78 2405.94 L1184.78 2409.47 L1184.78 2413.01 L1184.78 2416.55 L1184.73 2420.19 L1184.66 2423.83 L1184.52 2427.47 L1184.28 2431.12 L1183.84 2434.65 L1183.25 2438.19 L1182.68 2441.73 L1182.28 2445.27 Z" fill="#56B4E9" fill-opacity="0.5" stroke="#56B4E9" stroke-width="6.3" stroke-linejoin="round" stroke-linecap="round"/>
<path d="M1263.33 2433.54 L1263.28 2431.12 L1263.21 2428.69 L1263.1 2426.26 L1262.91 2423.83 L1262.64 2420.3 L1262.31 2416.76 L1261.97 2413.22 L1261.67 2409.68 L1261.36 2406.04 L1261.03 2402.4 L1260.67 2398.76 L1260.27 2395.11 L1259.82 2391.58 L1259.32 2388.04 L1258.82 2384.5 L1258.37 2380.96 L1257.98 2377.32 L1257.62 2373.68 L1257.28 2370.04 L1256.97 2366.4 L1256.68 2362.86 L1256.42 2359.32 L1256.18 2355.78 L1255.97 2352.24 L1255.79 2349 L1255.63 2345.77 L1255.52 2342.53 L1255.47 2339.29 L1255.52 2337.17 L1255.63 2335.05 L1255.79 2332.92 L1255.97 2330.8 L1256.18 2327.16 L1256.42 2323.52 L1256.68 2319.88 L1256.97 2316.24 L1257.28 2312.7 L1257.6 2309.16 L1257.96 2305.62 L1258.37 2302.08 L1258.88 2296.72 L1259.45 2291.36 L1260.04 2286 L1260.57 2280.64 L1261.05 2275.18 L1261.51 2269.72 L1261.93 2264.26 L1262.35 2258.8 L1262.73 2255.46 L1263.02 2252.12 L1263.24 2248.79 L1263.4 2245.45 L1263.43 2215.52 L1263.43 2185.58 L1263.43 2155.65 L1263.47 2125.72 L1263.47 2125.72 L1263.51 2155.65 L1263.51 2185.58 L1263.51 2215.52 L1263.54 2245.45 L1263.7 2248.79 L1263.92 2252.12 L1264.21 2255.46 L1264.59 2258.8 L1265.02 2264.26 L1265.43 2269.72 L1265.89 2275.18 L1266.37 2280.64 L1266.91 2286 L1267.49 2291.36 L1268.07 2296.72 L1268.57 2302.08 L1268.99 2305.62 L1269.35 2309.16 L1269.67 2312.7 L1269.97 2316.24 L1270.26 2319.88 L1270.53 2323.52 L1270.77 2327.16 L1270.97 2330.8 L1271.16 2332.92 L1271.32 2335.05 L1271.43 2337.17 L1271.47 2339.29 L1271.43 2342.53 L1271.32 2345.77 L1271.16 2349 L1270.97 2352.24 L1270.77 2355.78 L1270.53 2359.32 L1270.26 2362.86 L1269.97 2366.4 L1269.66 2370.04 L1269.33 2373.68 L1268.97 2377.32 L1268.57 2380.96 L1268.12 2384.5 L1267.62 2388.04 L1267.12 2391.58 L1266.67 2395.11 L1266.28 2398.76 L1265.92 2402.4 L1265.58 2406.04 L1265.27 2409.68 L1264.98 2413.22 L1264.64 2416.76 L1264.3 2420.3 L1264.03 2423.83 L1263.85 2426.26 L1263.73 2428.69 L1263.66 2431.12 L1263.61 2433.54 Z" fill="#E69F00" fill-opacity="0.5" stroke="#E69F00" stroke-width="6.3" stroke-linejoin="round" stroke-linecap="round"/>
<path d="M1281.46 2435.56 L1281.18 2432.63 L1280.78 2429.7 L1280.35 2426.77 L1279.98 2423.83 L1279.55 2420.3 L1279.06 2416.76 L1278.55 2413.22 L1278.08 2409.68 L1277.63 2406.04 L1277.18 2402.4 L1276.76 2398.76 L1276.38 2395.11 L1276.03 2391.58 L1275.7 2388.04 L1275.42 2384.5 L1275.18 2380.96 L1274.99 2377.32 L1274.85 2373.68 L1274.75 2370.04 L1274.68 2366.4 L1274.68 2362.86 L1274.68 2359.32 L1274.68 2355.78 L1274.68 2352.24 L1274.7 2348.6 L1274.72 2344.96 L1274.77 2341.32 L1274.88 2337.68 L1275.04 2334.14 L1275.25 2330.6 L1275.5 2327.06 L1275.78 2323.52 L1276.09 2318.16 L1276.44 2312.8 L1276.81 2307.44 L1277.18 2302.08 L1277.56 2296.72 L1277.95 2291.36 L1278.34 2286 L1278.68 2280.64 L1278.97 2275.18 L1279.23 2269.72 L1279.46 2264.26 L1279.68 2258.8 L1279.87 2253.44 L1280.05 2248.08 L1280.21 2242.72 L1280.38 2237.36 L1280.59 2232 L1280.85 2226.64 L1281.1 2221.28 L1281.32 2215.92 L1281.5 2212.18 L1281.66 2208.44 L1281.79 2204.7 L1281.88 2200.95 L1281.88 2200.95 L1281.97 2204.7 L1282.1 2208.44 L1282.25 2212.18 L1282.44 2215.92 L1282.65 2221.28 L1282.9 2226.64 L1283.16 2232 L1283.38 2237.36 L1283.55 2242.72 L1283.71 2248.08 L1283.88 2253.44 L1284.08 2258.8 L1284.29 2264.26 L1284.53 2269.72 L1284.79 2275.18 L1285.08 2280.64 L1285.42 2286 L1285.8 2291.36 L1286.2 2296.72 L1286.58 2302.08 L1286.95 2307.44 L1287.32 2312.8 L1287.66 2318.16 L1287.98 2323.52 L1288.25 2327.06 L1288.5 2330.6 L1288.71 2334.14 L1288.88 2337.68 L1288.98 2341.32 L1289.03 2344.96 L1289.06 2348.6 L1289.08 2352.24 L1289.08 2355.78 L1289.08 2359.32 L1289.08 2362.86 L1289.08 2366.4 L1289 2370.04 L1288.9 2373.68 L1288.76 2377.32 L1288.58 2380.96 L1288.34 2384.5 L1288.05 2388.04 L1287.73 2391.58 L1287.38 2395.11 L1286.99 2398.76 L1286.57 2402.4 L1286.13 2406.04 L1285.68 2409.68 L1285.2 2413.22 L1284.7 2416.76 L1284.21 2420.3 L1283.78 2423.83 L1283.4 2426.77 L1282.97 2429.7 L1282.58 2432.63 L1282.3 2435.56 Z" fill="#56B4E9" fill-opacity="0.5" stroke="#56B4E9" stroke-width="6.3" stroke-linejoin="round" stroke-linecap="round"/>
<rect x="1150.38" y="2339.83" width="20.6" height="5.4" rx="1.2" fill="#E69F00"/>
<rect x="1165.78" y="2375.02" width="20.6" height="5.4" rx="1.2" fill="#56B4E9"/>
<rect x="1254.67" y="2335.78" width="20.6" height="5.4" rx="1.2" fill="#E69F00"/>
<rect x="1270.08" y="2345.09" width="20.6" height="5.4" rx="1.2" fill="#56B4E9"/>
<rect x="1152.98" y="2335.68" width="15.4" height="13.7" fill="#E69F00"/>
<rect x="1168.38" y="2370.87" width="15.4" height="13.7" fill="#56B4E9"/>
<rect x="1257.27" y="2331.63" width="15.4" height="13.7" fill="#E69F00"/>
<rect x="1272.67" y="2340.94" width="15.4" height="13.7" fill="#56B4E9"/>
<text x="1169.08" y="2129.9" font-size="21.5" letter-spacing="1.35" fill="#000" text-anchor="middle">***</text>
</g><g>
<rect x="927.8" y="2118.8" width="212.7" height="147.2" fill="#fff" stroke="#000" stroke-width="2.7"/>
<text x="940.7" y="2153.6" font-size="26.4" font-weight="bold" fill="#000">Treatment</text>
<rect x="937.4" y="2171.4" width="37" height="36.6" fill="#f2cf7f"/>
<rect x="937.4" y="2212.1" width="37" height="36.6" fill="#aadaf4"/>
<text x="984.2" y="2197.1" font-size="25.8" fill="#000">CONTROL</text>
<text x="984.2" y="2237.8" font-size="25.8" fill="#000">IRRIGATION</text>
</g>
<rect x="918.3" y="2109.4" width="402.3" height="353.1" fill="none" stroke="#333333" stroke-width="2.6"/>
<line x1="996.6" x2="996.6" y1="2463.6" y2="2470.4" stroke="#333333" stroke-width="5.3"/>
<text x="961.5" y="2495.3" font-size="26.2" fill="#4d4d4d">Jun 30</text>
<line x1="1119.3" x2="1119.3" y1="2463.6" y2="2470.4" stroke="#333333" stroke-width="5.3"/>
<text x="1084" y="2495.3" font-size="26.2" fill="#4d4d4d">Jul 20</text>
<line x1="1242" x2="1242" y1="2463.6" y2="2470.4" stroke="#333333" stroke-width="5.3"/>
<text x="1206.7" y="2495.3" font-size="26.2" fill="#4d4d4d">Aug 09</text>
<text x="704.3" y="2530.5" font-size="29.7" fill="#000" text-anchor="middle">Day</text>
</svg></body></html>
